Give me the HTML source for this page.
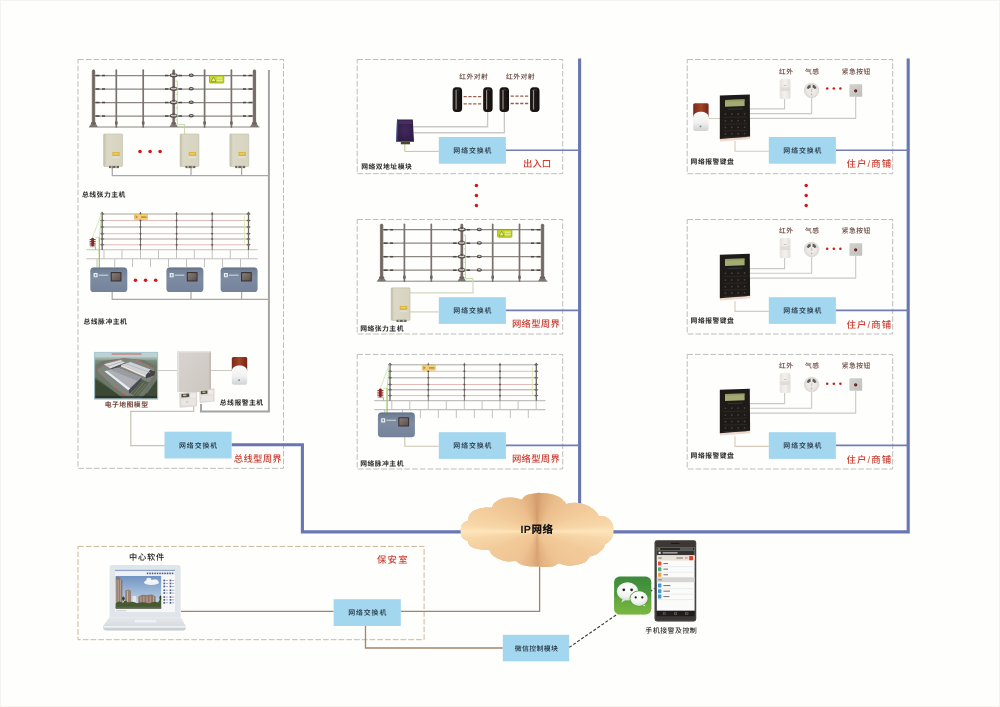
<!DOCTYPE html>
<html lang="zh-CN">
<head>
<meta charset="utf-8">
<title>周界报警系统拓扑图</title>
<style>
html,body{margin:0;padding:0;background:#fefefc;}
body{width:1000px;height:707px;overflow:hidden;position:relative;font-family:"Liberation Sans","Noto Sans CJK SC",sans-serif;}
svg{display:block;position:absolute;left:0;top:0;will-change:transform;}
text{font-family:"Liberation Sans","Noto Sans CJK SC",sans-serif;text-rendering:geometricPrecision;}
</style>
</head>
<body>
<svg width="1000" height="707" viewBox="0 0 1000 707">
<defs>
<linearGradient id="postg" x1="0" x2="1" y1="0" y2="0"><stop offset="0" stop-color="#8a817d"/><stop offset="0.45" stop-color="#6f6763"/><stop offset="1" stop-color="#7f7773"/></linearGradient>
<linearGradient id="beigeg" x1="0" x2="1" y1="0" y2="0"><stop offset="0" stop-color="#cfcbb7"/><stop offset="0.2" stop-color="#dbd8c6"/><stop offset="1" stop-color="#d6d3c0"/></linearGradient>
<linearGradient id="pulseg" x1="0" x2="0" y1="0" y2="1"><stop offset="0" stop-color="#6f7e94"/><stop offset="0.45" stop-color="#7d8ca1"/><stop offset="1" stop-color="#74839a"/></linearGradient>
<linearGradient id="scrg" x1="0" x2="1" y1="0" y2="1"><stop offset="0" stop-color="#8a7d78"/><stop offset="1" stop-color="#5c504c"/></linearGradient>
<linearGradient id="sirr" x1="0" x2="1" y1="0" y2="0"><stop offset="0" stop-color="#7c2819"/><stop offset="0.5" stop-color="#a24426"/><stop offset="1" stop-color="#772417"/></linearGradient>
<linearGradient id="sirw" x1="0" x2="0" y1="0" y2="1"><stop offset="0" stop-color="#fbfbfa"/><stop offset="0.55" stop-color="#f0f1f0"/><stop offset="1" stop-color="#cfd3d2"/></linearGradient>
<linearGradient id="pirg" x1="0" x2="1" y1="0" y2="0"><stop offset="0" stop-color="#e6e2de"/><stop offset="0.5" stop-color="#f3f1ee"/><stop offset="1" stop-color="#e3dfdb"/></linearGradient>
<radialGradient id="gasg" cx="0.5" cy="0.5" r="0.5"><stop offset="0" stop-color="#f3f1ee"/><stop offset="0.7" stop-color="#e9e6e2"/><stop offset="1" stop-color="#dcd8d3"/></radialGradient>
<linearGradient id="btng" x1="0" x2="1" y1="0" y2="1"><stop offset="0" stop-color="#d2d2ce"/><stop offset="1" stop-color="#bfc0bb"/></linearGradient>
<linearGradient id="irg" x1="0" x2="1" y1="0" y2="0"><stop offset="0" stop-color="#2b2522"/><stop offset="0.25" stop-color="#14110f"/><stop offset="0.6" stop-color="#1c1816"/><stop offset="1" stop-color="#0f0d0c"/></linearGradient>
<linearGradient id="cabg" x1="0" x2="1" y1="0" y2="1"><stop offset="0" stop-color="#d9d4d0"/><stop offset="1" stop-color="#cdc6c1"/></linearGradient>
<linearGradient id="mapg" x1="0" x2="0" y1="0" y2="1"><stop offset="0" stop-color="#95a59a"/><stop offset="0.35" stop-color="#66775f"/><stop offset="1" stop-color="#3f4c39"/></linearGradient>
<linearGradient id="skyg" x1="0" x2="0" y1="0" y2="1"><stop offset="0" stop-color="#6f93c2"/><stop offset="0.6" stop-color="#a9c3dd"/><stop offset="1" stop-color="#d5e0ea"/></linearGradient>
<linearGradient id="baseg" x1="0" x2="0" y1="0" y2="1"><stop offset="0" stop-color="#e4e7ea"/><stop offset="0.7" stop-color="#d7dbdf"/><stop offset="1" stop-color="#c3c8cd"/></linearGradient>
<linearGradient id="wxg" x1="0" x2="0" y1="0" y2="1"><stop offset="0" stop-color="#3d8a3c"/><stop offset="0.5" stop-color="#4d9a3c"/><stop offset="1" stop-color="#79b83f"/></linearGradient>
<radialGradient id="bubg" cx="0.45" cy="0.3" r="0.8"><stop offset="0" stop-color="#ffffff"/><stop offset="0.6" stop-color="#f1f3ef"/><stop offset="1" stop-color="#c9d2c6"/></radialGradient>
<linearGradient id="hazeg" x1="0" x2="0" y1="0" y2="1"><stop offset="0" stop-color="#b3c7c4"/><stop offset="1" stop-color="#8a9a8e"/></linearGradient>
<filter id="soft" x="-5%" y="-10%" width="110%" height="120%" color-interpolation-filters="sRGB"><feGaussianBlur stdDeviation="0.38"/></filter>
<radialGradient id="modg" cx="0.5" cy="0.45" r="0.7"><stop offset="0" stop-color="#41295c"/><stop offset="1" stop-color="#2b1a40"/></radialGradient>
</defs>
<rect x="0" y="0" width="1000" height="707" fill="#fefefc"/>
<rect x="0.5" y="0.5" width="999" height="706" fill="none" stroke="#f4f3f0" stroke-width="1"/>
<rect x="78" y="59.5" width="205.5" height="408.8" fill="none" stroke="#bdbdbd" stroke-width="1" stroke-dasharray="5.75 2"/>
<rect x="357.2" y="59.5" width="205.50000000000006" height="114.19999999999999" fill="none" stroke="#bdbdbd" stroke-width="1" stroke-dasharray="5.75 2"/>
<rect x="687.2" y="59.5" width="205.5" height="114.19999999999999" fill="none" stroke="#bdbdbd" stroke-width="1" stroke-dasharray="5.75 2"/>
<rect x="357.2" y="219.5" width="205.50000000000006" height="114.5" fill="none" stroke="#bdbdbd" stroke-width="1" stroke-dasharray="5.75 2"/>
<rect x="687.2" y="219.5" width="205.5" height="114.5" fill="none" stroke="#bdbdbd" stroke-width="1" stroke-dasharray="5.75 2"/>
<rect x="357.2" y="354.4" width="205.50000000000006" height="114.60000000000002" fill="none" stroke="#bdbdbd" stroke-width="1" stroke-dasharray="5.75 2"/>
<rect x="687.2" y="354.4" width="205.5" height="114.60000000000002" fill="none" stroke="#bdbdbd" stroke-width="1" stroke-dasharray="5.75 2"/>
<rect x="78" y="546.4" width="346.1" height="93.30000000000007" fill="none" stroke="#cdb79b" stroke-width="1" stroke-dasharray="5.75 2"/>
<polyline points="231.6,444.7 302.4,444.7 302.4,531.9 462,531.9" fill="none" stroke="#6876b2" stroke-width="3.1" />
<polyline points="610,531.9 908.2,531.9 908.2,58.6" fill="none" stroke="#6876b2" stroke-width="3.1" />
<polyline points="579.6,58.6 579.6,505" fill="none" stroke="#6876b2" stroke-width="3.1" />
<polyline points="505.9,150.2 579,150.2" fill="none" stroke="#727db5" stroke-width="1.6" />
<polyline points="835.9,150.2 908,150.2" fill="none" stroke="#727db5" stroke-width="1.6" />
<polyline points="505.9,310.4 579,310.4" fill="none" stroke="#727db5" stroke-width="1.6" />
<polyline points="835.9,310.4 908,310.4" fill="none" stroke="#727db5" stroke-width="1.6" />
<polyline points="505.9,445.4 579,445.4" fill="none" stroke="#727db5" stroke-width="1.6" />
<polyline points="835.9,445.4 908,445.4" fill="none" stroke="#727db5" stroke-width="1.6" />
<polyline points="201,404 201,411.4 268.9,411.4 268.9,70" fill="none" stroke="#a3a3a3" stroke-width="2" />
<polyline points="112.3,168 112.3,175.6 268.9,175.6" fill="none" stroke="#aaa8a6" stroke-width="1.25" />
<polyline points="191,168 191,175.6" fill="none" stroke="#aaa8a6" stroke-width="1.25" />
<polyline points="241.6,168 241.6,175.6" fill="none" stroke="#aaa8a6" stroke-width="1.25" />
<g transform="translate(0,0)" filter="url(#soft)">
<line x1="94" y1="75.5" x2="254" y2="75.5" stroke="#8d8783" stroke-width="1.25"/>
<line x1="95.5" y1="75.5" x2="99.5" y2="75.5" stroke="#4c4644" stroke-width="1.5"/>
<line x1="102" y1="75.5" x2="105" y2="75.5" stroke="#4c4644" stroke-width="1.5"/>
<line x1="165" y1="75.5" x2="168.5" y2="75.5" stroke="#4c4644" stroke-width="1.5"/>
<line x1="178.5" y1="75.5" x2="182" y2="75.5" stroke="#4c4644" stroke-width="1.5"/>
<line x1="243" y1="75.5" x2="246" y2="75.5" stroke="#4c4644" stroke-width="1.5"/>
<line x1="248.5" y1="75.5" x2="252.5" y2="75.5" stroke="#4c4644" stroke-width="1.5"/>
<line x1="94" y1="89" x2="254" y2="89" stroke="#8d8783" stroke-width="1.25"/>
<line x1="95.5" y1="89" x2="99.5" y2="89" stroke="#4c4644" stroke-width="1.5"/>
<line x1="102" y1="89" x2="105" y2="89" stroke="#4c4644" stroke-width="1.5"/>
<line x1="165" y1="89" x2="168.5" y2="89" stroke="#4c4644" stroke-width="1.5"/>
<line x1="178.5" y1="89" x2="182" y2="89" stroke="#4c4644" stroke-width="1.5"/>
<line x1="243" y1="89" x2="246" y2="89" stroke="#4c4644" stroke-width="1.5"/>
<line x1="248.5" y1="89" x2="252.5" y2="89" stroke="#4c4644" stroke-width="1.5"/>
<line x1="94" y1="102.5" x2="254" y2="102.5" stroke="#8d8783" stroke-width="1.25"/>
<line x1="95.5" y1="102.5" x2="99.5" y2="102.5" stroke="#4c4644" stroke-width="1.5"/>
<line x1="102" y1="102.5" x2="105" y2="102.5" stroke="#4c4644" stroke-width="1.5"/>
<line x1="165" y1="102.5" x2="168.5" y2="102.5" stroke="#4c4644" stroke-width="1.5"/>
<line x1="178.5" y1="102.5" x2="182" y2="102.5" stroke="#4c4644" stroke-width="1.5"/>
<line x1="243" y1="102.5" x2="246" y2="102.5" stroke="#4c4644" stroke-width="1.5"/>
<line x1="248.5" y1="102.5" x2="252.5" y2="102.5" stroke="#4c4644" stroke-width="1.5"/>
<line x1="94" y1="116" x2="254" y2="116" stroke="#8d8783" stroke-width="1.25"/>
<line x1="95.5" y1="116" x2="99.5" y2="116" stroke="#4c4644" stroke-width="1.5"/>
<line x1="102" y1="116" x2="105" y2="116" stroke="#4c4644" stroke-width="1.5"/>
<line x1="165" y1="116" x2="168.5" y2="116" stroke="#4c4644" stroke-width="1.5"/>
<line x1="178.5" y1="116" x2="182" y2="116" stroke="#4c4644" stroke-width="1.5"/>
<line x1="243" y1="116" x2="246" y2="116" stroke="#4c4644" stroke-width="1.5"/>
<line x1="248.5" y1="116" x2="252.5" y2="116" stroke="#4c4644" stroke-width="1.5"/>
<line x1="89" y1="127" x2="259.5" y2="127" stroke="#8a8480" stroke-width="1"/>
<line x1="116.3" y1="70.2" x2="116.3" y2="127" stroke="#7b726e" stroke-width="1.7" stroke-linecap="round"/>
<rect x="115.0" y="121.5" width="2.6" height="3" fill="#6d6561"/>
<line x1="143.2" y1="70.2" x2="143.2" y2="127" stroke="#7b726e" stroke-width="1.7" stroke-linecap="round"/>
<rect x="141.89999999999998" y="121.5" width="2.6" height="3" fill="#6d6561"/>
<line x1="204.6" y1="70.2" x2="204.6" y2="127" stroke="#7b726e" stroke-width="1.7" stroke-linecap="round"/>
<rect x="203.29999999999998" y="121.5" width="2.6" height="3" fill="#6d6561"/>
<line x1="231.4" y1="70.2" x2="231.4" y2="127" stroke="#7b726e" stroke-width="1.7" stroke-linecap="round"/>
<rect x="230.1" y="121.5" width="2.6" height="3" fill="#6d6561"/>
<rect x="91.8" y="69.5" width="3.4" height="57" rx="1.5" fill="url(#postg)"/>
<rect x="90.9" y="122.2" width="5.2" height="2.6" rx="0.8" fill="#6b635f"/>
<path d="M89.1,127 L90.5,124.6 L96.5,124.6 L97.9,127 Z" fill="#7d7571"/>
<rect x="252.70000000000002" y="69.5" width="3.4" height="57" rx="1.5" fill="url(#postg)"/>
<rect x="251.8" y="122.2" width="5.2" height="2.6" rx="0.8" fill="#6b635f"/>
<path d="M250.0,127 L251.4,124.6 L257.4,124.6 L258.8,127 Z" fill="#7d7571"/>
<rect x="172.29999999999998" y="69.6" width="2.8" height="57" rx="1.3" fill="url(#postg)"/>
<rect x="171.29999999999998" y="122.2" width="4.8" height="2.6" rx="0.8" fill="#6b635f"/>
<path d="M169.5,127 L170.89999999999998,124.6 L176.5,124.6 L177.89999999999998,127 Z" fill="#7d7571"/>
<ellipse cx="173.7" cy="75.3" rx="4" ry="2.1" fill="#524c4a"/>
<ellipse cx="173.7" cy="75.05" rx="2.9" ry="1.05" fill="#d6d2ce"/>
<rect x="172.39999999999998" y="72.7" width="2.6" height="2" fill="#5a5350"/>
<ellipse cx="173.7" cy="88.8" rx="4" ry="2.1" fill="#524c4a"/>
<ellipse cx="173.7" cy="88.55" rx="2.9" ry="1.05" fill="#d6d2ce"/>
<rect x="172.39999999999998" y="86.2" width="2.6" height="2" fill="#5a5350"/>
<ellipse cx="173.7" cy="102.3" rx="4" ry="2.1" fill="#524c4a"/>
<ellipse cx="173.7" cy="102.05" rx="2.9" ry="1.05" fill="#d6d2ce"/>
<rect x="172.39999999999998" y="99.7" width="2.6" height="2" fill="#5a5350"/>
<ellipse cx="173.7" cy="115.8" rx="4" ry="2.1" fill="#524c4a"/>
<ellipse cx="173.7" cy="115.55" rx="2.9" ry="1.05" fill="#d6d2ce"/>
<rect x="172.39999999999998" y="113.2" width="2.6" height="2" fill="#5a5350"/>
<ellipse cx="191.2" cy="75.3" rx="2.6" ry="1.7" fill="#4a4543"/>
<ellipse cx="191.2" cy="75.1" rx="1.5" ry="0.7" fill="#c9c5c1"/>
<ellipse cx="191.2" cy="88.8" rx="2.6" ry="1.7" fill="#4a4543"/>
<ellipse cx="191.2" cy="88.6" rx="1.5" ry="0.7" fill="#c9c5c1"/>
<ellipse cx="191.2" cy="102.3" rx="2.6" ry="1.7" fill="#4a4543"/>
<ellipse cx="191.2" cy="102.1" rx="1.5" ry="0.7" fill="#c9c5c1"/>
<ellipse cx="191.2" cy="115.8" rx="2.6" ry="1.7" fill="#4a4543"/>
<ellipse cx="191.2" cy="115.6" rx="1.5" ry="0.7" fill="#c9c5c1"/>
<rect x="209.5" y="75.6" width="14.3" height="7.4" rx="0.8" fill="#c9d92a" stroke="#8d9a1c" stroke-width="0.7"/>
<path d="M211,81.6 L213.5,77 L216,81.6 Z" fill="#e9ef9a" stroke="#6c7a22" stroke-width="0.6"/>
<rect x="216.8" y="77.4" width="5.6" height="1.3" fill="#e3ea8c"/><rect x="216.8" y="79.8" width="5.6" height="1.3" fill="#e3ea8c"/>
<polyline points="175.6,81 177.3,81 177.3,124.4 184.6,124.4 184.6,134" fill="none" stroke="#afd596" stroke-width="0.8"/>
<line x1="175.8" y1="94.5" x2="177.3" y2="94.5" stroke="#a8d08c" stroke-width="0.7"/>
<line x1="175.8" y1="108" x2="177.3" y2="108" stroke="#a8d08c" stroke-width="0.7"/>
<line x1="175.8" y1="120" x2="177.3" y2="120" stroke="#a8d08c" stroke-width="0.7"/>
</g>
<g transform="translate(103.6,133.9)">
<rect x="0" y="0" width="19" height="32.6" rx="0.8" fill="url(#beigeg)"/>
<rect x="0" y="0" width="19" height="32.6" rx="0.8" fill="none" stroke="#bdb8a4" stroke-width="0.5"/>
<rect x="0.2" y="0.4" width="1.6" height="31.8" fill="#c7c3af" opacity="0.8"/>
<rect x="8.7" y="18.2" width="7.4" height="4" rx="0.4" fill="#dcb63c"/>
<rect x="9.8" y="19.4" width="5" height="1.1" fill="#efd87c"/>
<rect x="8.9" y="22.6" width="7" height="1.6" fill="#e3e0d3"/>
<rect x="5.4" y="32" width="10" height="2.2" fill="#6a655b"/>
<rect x="7.2" y="32.2" width="1.6" height="1.8" fill="#bdb9ad"/><rect x="11.6" y="32.2" width="1.6" height="1.8" fill="#bdb9ad"/>
</g>
<g transform="translate(180,133.9)">
<rect x="0" y="0" width="19" height="32.6" rx="0.8" fill="url(#beigeg)"/>
<rect x="0" y="0" width="19" height="32.6" rx="0.8" fill="none" stroke="#bdb8a4" stroke-width="0.5"/>
<rect x="0.2" y="0.4" width="1.6" height="31.8" fill="#c7c3af" opacity="0.8"/>
<rect x="8.7" y="18.2" width="7.4" height="4" rx="0.4" fill="#dcb63c"/>
<rect x="9.8" y="19.4" width="5" height="1.1" fill="#efd87c"/>
<rect x="8.9" y="22.6" width="7" height="1.6" fill="#e3e0d3"/>
<rect x="5.4" y="32" width="10" height="2.2" fill="#6a655b"/>
<rect x="7.2" y="32.2" width="1.6" height="1.8" fill="#bdb9ad"/><rect x="11.6" y="32.2" width="1.6" height="1.8" fill="#bdb9ad"/>
</g>
<g transform="translate(229.8,133.9)">
<rect x="0" y="0" width="19" height="32.6" rx="0.8" fill="url(#beigeg)"/>
<rect x="0" y="0" width="19" height="32.6" rx="0.8" fill="none" stroke="#bdb8a4" stroke-width="0.5"/>
<rect x="0.2" y="0.4" width="1.6" height="31.8" fill="#c7c3af" opacity="0.8"/>
<rect x="8.7" y="18.2" width="7.4" height="4" rx="0.4" fill="#dcb63c"/>
<rect x="9.8" y="19.4" width="5" height="1.1" fill="#efd87c"/>
<rect x="8.9" y="22.6" width="7" height="1.6" fill="#e3e0d3"/>
<rect x="5.4" y="32" width="10" height="2.2" fill="#6a655b"/>
<rect x="7.2" y="32.2" width="1.6" height="1.8" fill="#bdb9ad"/><rect x="11.6" y="32.2" width="1.6" height="1.8" fill="#bdb9ad"/>
</g>
<circle cx="140" cy="151.5" r="1.8" fill="#d3161c"/>
<circle cx="150.1" cy="151.5" r="1.8" fill="#d3161c"/>
<circle cx="160.1" cy="151.5" r="1.8" fill="#d3161c"/>
<polyline points="112.2,292 112.2,299.4 268.9,299.4" fill="none" stroke="#aaa8a6" stroke-width="1.25" />
<polyline points="191,292 191,299.4" fill="none" stroke="#aaa8a6" stroke-width="1.25" />
<polyline points="241.6,292 241.6,299.4" fill="none" stroke="#aaa8a6" stroke-width="1.25" />
<g transform="translate(0,0)" filter="url(#soft)">
<line x1="86.5" y1="249.8" x2="257.6" y2="249.8" stroke="#c3c1bf" stroke-width="1.1"/>
<line x1="86.5" y1="258.8" x2="257.6" y2="258.8" stroke="#c3c1bf" stroke-width="1.1"/>
<line x1="104" y1="249.8" x2="104" y2="258.8" stroke="#c3c1bf" stroke-width="1"/>
<line x1="122" y1="249.8" x2="122" y2="258.8" stroke="#c3c1bf" stroke-width="1"/>
<line x1="140.5" y1="249.8" x2="140.5" y2="258.8" stroke="#c3c1bf" stroke-width="1"/>
<line x1="158.5" y1="249.8" x2="158.5" y2="258.8" stroke="#c3c1bf" stroke-width="1"/>
<line x1="176.5" y1="249.8" x2="176.5" y2="258.8" stroke="#c3c1bf" stroke-width="1"/>
<line x1="194.3" y1="249.8" x2="194.3" y2="258.8" stroke="#c3c1bf" stroke-width="1"/>
<line x1="212.2" y1="249.8" x2="212.2" y2="258.8" stroke="#c3c1bf" stroke-width="1"/>
<line x1="230.3" y1="249.8" x2="230.3" y2="258.8" stroke="#c3c1bf" stroke-width="1"/>
<line x1="248.4" y1="249.8" x2="248.4" y2="258.8" stroke="#c3c1bf" stroke-width="1"/>
<line x1="97" y1="258.8" x2="97" y2="267.2" stroke="#c3c1bf" stroke-width="1"/>
<line x1="114.7" y1="258.8" x2="114.7" y2="267.2" stroke="#c3c1bf" stroke-width="1"/>
<line x1="132.6" y1="258.8" x2="132.6" y2="267.2" stroke="#c3c1bf" stroke-width="1"/>
<line x1="150.5" y1="258.8" x2="150.5" y2="267.2" stroke="#c3c1bf" stroke-width="1"/>
<line x1="168.5" y1="258.8" x2="168.5" y2="267.2" stroke="#c3c1bf" stroke-width="1"/>
<line x1="186.5" y1="258.8" x2="186.5" y2="267.2" stroke="#c3c1bf" stroke-width="1"/>
<line x1="204.5" y1="258.8" x2="204.5" y2="267.2" stroke="#c3c1bf" stroke-width="1"/>
<line x1="222.5" y1="258.8" x2="222.5" y2="267.2" stroke="#c3c1bf" stroke-width="1"/>
<line x1="240.5" y1="258.8" x2="240.5" y2="267.2" stroke="#c3c1bf" stroke-width="1"/>
<line x1="102" y1="214" x2="248.5" y2="214" stroke="#aaa5a1" stroke-width="1"/>
<line x1="102" y1="220.5" x2="248.5" y2="220.5" stroke="#dcaaa6" stroke-width="0.8"/>
<line x1="102" y1="227" x2="248.5" y2="227" stroke="#aaa5a1" stroke-width="1"/>
<line x1="102" y1="233.7" x2="248.5" y2="233.7" stroke="#dcaaa6" stroke-width="0.8"/>
<line x1="102" y1="239" x2="248.5" y2="239" stroke="#aaa5a1" stroke-width="1"/>
<line x1="102" y1="244.8" x2="248.5" y2="244.8" stroke="#dcaaa6" stroke-width="0.8"/>
<line x1="140.5" y1="212" x2="140.5" y2="250" stroke="#6f6966" stroke-width="0.95"/>
<rect x="139.6" y="213.3" width="1.8" height="1.4" fill="#5a5452"/>
<rect x="139.6" y="219.8" width="1.8" height="1.4" fill="#5a5452"/>
<rect x="139.6" y="226.3" width="1.8" height="1.4" fill="#5a5452"/>
<rect x="139.6" y="233.0" width="1.8" height="1.4" fill="#5a5452"/>
<rect x="139.6" y="238.3" width="1.8" height="1.4" fill="#5a5452"/>
<rect x="139.6" y="244.10000000000002" width="1.8" height="1.4" fill="#5a5452"/>
<line x1="176.6" y1="212" x2="176.6" y2="250" stroke="#6f6966" stroke-width="0.95"/>
<rect x="175.7" y="213.3" width="1.8" height="1.4" fill="#5a5452"/>
<rect x="175.7" y="219.8" width="1.8" height="1.4" fill="#5a5452"/>
<rect x="175.7" y="226.3" width="1.8" height="1.4" fill="#5a5452"/>
<rect x="175.7" y="233.0" width="1.8" height="1.4" fill="#5a5452"/>
<rect x="175.7" y="238.3" width="1.8" height="1.4" fill="#5a5452"/>
<rect x="175.7" y="244.10000000000002" width="1.8" height="1.4" fill="#5a5452"/>
<line x1="212.2" y1="212" x2="212.2" y2="250" stroke="#6f6966" stroke-width="0.95"/>
<rect x="211.29999999999998" y="213.3" width="1.8" height="1.4" fill="#5a5452"/>
<rect x="211.29999999999998" y="219.8" width="1.8" height="1.4" fill="#5a5452"/>
<rect x="211.29999999999998" y="226.3" width="1.8" height="1.4" fill="#5a5452"/>
<rect x="211.29999999999998" y="233.0" width="1.8" height="1.4" fill="#5a5452"/>
<rect x="211.29999999999998" y="238.3" width="1.8" height="1.4" fill="#5a5452"/>
<rect x="211.29999999999998" y="244.10000000000002" width="1.8" height="1.4" fill="#5a5452"/>
<line x1="102.2" y1="212.4" x2="102.2" y2="250" stroke="#6a6461" stroke-width="1.3"/>
<path d="M100.9,213.6 L102.2,211.6 L103.5,213.6 Z" fill="#6a6461"/>
<path d="M99.9,214 L102.2,212.8 L104.5,214 L102.2,215.2 Z" fill="#6f6966"/>
<path d="M99.9,220.5 L102.2,219.3 L104.5,220.5 L102.2,221.7 Z" fill="#6f6966"/>
<path d="M99.9,227 L102.2,225.8 L104.5,227 L102.2,228.2 Z" fill="#6f6966"/>
<path d="M99.9,233.7 L102.2,232.5 L104.5,233.7 L102.2,234.89999999999998 Z" fill="#6f6966"/>
<path d="M99.9,239 L102.2,237.8 L104.5,239 L102.2,240.2 Z" fill="#6f6966"/>
<path d="M99.9,244.8 L102.2,243.60000000000002 L104.5,244.8 L102.2,246.0 Z" fill="#6f6966"/>
<line x1="248.5" y1="212.4" x2="248.5" y2="250" stroke="#6a6461" stroke-width="1.3"/>
<path d="M247.2,213.6 L248.5,211.6 L249.8,213.6 Z" fill="#6a6461"/>
<path d="M246.2,214 L248.5,212.8 L250.8,214 L248.5,215.2 Z" fill="#6f6966"/>
<path d="M246.2,220.5 L248.5,219.3 L250.8,220.5 L248.5,221.7 Z" fill="#6f6966"/>
<path d="M246.2,227 L248.5,225.8 L250.8,227 L248.5,228.2 Z" fill="#6f6966"/>
<path d="M246.2,233.7 L248.5,232.5 L250.8,233.7 L248.5,234.89999999999998 Z" fill="#6f6966"/>
<path d="M246.2,239 L248.5,237.8 L250.8,239 L248.5,240.2 Z" fill="#6f6966"/>
<path d="M246.2,244.8 L248.5,243.60000000000002 L250.8,244.8 L248.5,246.0 Z" fill="#6f6966"/>
<rect x="134.5" y="214.4" width="13" height="5" rx="0.5" fill="#f3d27a" stroke="#d9a93a" stroke-width="0.5"/>
<path d="M135.6,215.2 L138.2,216.9 L135.6,218.6 Z" fill="#d8831e"/>
<rect x="141" y="216.4" width="5.6" height="1.4" fill="#b58a3c"/>
<rect x="91.3" y="237.8" width="2.6" height="8.6" rx="1.1" fill="#7c1f1c"/>
<line x1="89.6" y1="239.6" x2="95.6" y2="239.6" stroke="#8a2a25" stroke-width="1"/>
<line x1="89.6" y1="241.4" x2="95.6" y2="241.4" stroke="#8a2a25" stroke-width="1"/>
<line x1="89.6" y1="243.2" x2="95.6" y2="243.2" stroke="#8a2a25" stroke-width="1"/>
<line x1="89.6" y1="245" x2="95.6" y2="245" stroke="#8a2a25" stroke-width="1"/>
<polyline points="90,246.8 95.6,246.8 95.6,249.6" fill="none" stroke="#8e8a88" stroke-width="0.7"/>
<line x1="92.5" y1="237.6" x2="101.4" y2="213.6" stroke="#b6d8a0" stroke-width="0.6"/>
<line x1="95.4" y1="237.6" x2="99.3" y2="237.6" stroke="#b6d8a0" stroke-width="0.6"/>
<line x1="101.6" y1="213.6" x2="99.3" y2="238" stroke="#a9d48a" stroke-width="0.7"/>
<line x1="99.3" y1="237.4" x2="99.3" y2="268" stroke="#8cc63f" stroke-width="1.15"/>
<line x1="244.6" y1="216" x2="244.6" y2="244.6" stroke="#d5e5a5" stroke-width="0.8"/>
</g>
<g transform="translate(90.3,267.5)">
<rect x="0" y="0" width="37" height="24.6" rx="3.4" fill="url(#pulseg)"/>
<rect x="2" y="0.2" width="33" height="1.5" rx="0.7" fill="#64748a" opacity="0.85"/>
<rect x="20.4" y="4.6" width="10.8" height="9.4" rx="0.6" fill="#3b3433"/>
<rect x="21.5" y="5.7" width="8.6" height="7.2" fill="url(#scrg)"/>
<rect x="3.3" y="5.6" width="4" height="4.2" rx="0.5" fill="#eef1f5"/>
<rect x="4.5" y="6.6" width="1.6" height="2.2" fill="#8896ab"/>
<rect x="8.4" y="7" width="9.6" height="1.5" fill="#c3cbd7" opacity="0.85"/>
</g>
<g transform="translate(166.4,267.5)">
<rect x="0" y="0" width="37" height="24.6" rx="3.4" fill="url(#pulseg)"/>
<rect x="2" y="0.2" width="33" height="1.5" rx="0.7" fill="#64748a" opacity="0.85"/>
<rect x="20.4" y="4.6" width="10.8" height="9.4" rx="0.6" fill="#3b3433"/>
<rect x="21.5" y="5.7" width="8.6" height="7.2" fill="url(#scrg)"/>
<rect x="3.3" y="5.6" width="4" height="4.2" rx="0.5" fill="#eef1f5"/>
<rect x="4.5" y="6.6" width="1.6" height="2.2" fill="#8896ab"/>
<rect x="8.4" y="7" width="9.6" height="1.5" fill="#c3cbd7" opacity="0.85"/>
</g>
<g transform="translate(220.6,267.5)">
<rect x="0" y="0" width="37" height="24.6" rx="3.4" fill="url(#pulseg)"/>
<rect x="2" y="0.2" width="33" height="1.5" rx="0.7" fill="#64748a" opacity="0.85"/>
<rect x="20.4" y="4.6" width="10.8" height="9.4" rx="0.6" fill="#3b3433"/>
<rect x="21.5" y="5.7" width="8.6" height="7.2" fill="url(#scrg)"/>
<rect x="3.3" y="5.6" width="4" height="4.2" rx="0.5" fill="#eef1f5"/>
<rect x="4.5" y="6.6" width="1.6" height="2.2" fill="#8896ab"/>
<rect x="8.4" y="7" width="9.6" height="1.5" fill="#c3cbd7" opacity="0.85"/>
</g>
<circle cx="135.5" cy="280.2" r="1.8" fill="#d3161c"/>
<circle cx="145.6" cy="280.2" r="1.8" fill="#d3161c"/>
<circle cx="155.7" cy="280.2" r="1.8" fill="#d3161c"/>
<polyline points="158,370.5 177.2,370.5" fill="none" stroke="#cbc9c7" stroke-width="1" />
<polyline points="210.8,370.5 231.8,370.5" fill="none" stroke="#cbc9c7" stroke-width="1" />
<polyline points="193.7,405 193.7,411.4 130.8,411.4 130.8,445.6 164.5,445.6" fill="none" stroke="#cbc1b0" stroke-width="1.2" />
<g transform="translate(94.1,351.9)">
<clipPath id="mapclip"><rect x="0" y="0" width="64" height="47.4"/></clipPath>
<g clip-path="url(#mapclip)">
<rect x="0" y="0" width="64" height="47.4" fill="url(#mapg)"/>
<rect x="0" y="0" width="64" height="5.8" fill="#bcd2d3"/>
<rect x="0" y="5" width="64" height="3.4" fill="url(#hazeg)"/>
<path d="M0,14 L8,9 L30,6.4 L50,8 L64,15 V30 L46,47.4 H30 L0,24 Z" fill="#6b786a"/>
<path d="M4,17.6 L12.6,11 L27.6,7 L43.4,8 L59.2,16.6 L61,21.8 L43.6,42.8 L33.6,44.6 L19.6,34.6 L4,19.8 Z" fill="#7f857f"/>
<path d="M4,17.6 L12.6,11 L27.6,7 L43.4,8 L59.2,16.6 L61,21.8 L43.6,42.8 L33.6,44.6 L19.6,34.6 L4,19.8 Z" fill="none" stroke="#d7665c" stroke-width="0.9" stroke-dasharray="2.2 1.1" opacity="0.9"/>
<path d="M0,26 L20,40 L30,47.4 H0 Z" fill="#3b4934"/>
<path d="M64,26 L50,44 L47,47.4 H64 Z" fill="#3d4a38"/>
<path d="M50,40 L60,27 L62.4,28.4 L53,41.6 Z" fill="#6d726c"/>
<g transform="translate(30.5,24.6) scale(1.1) translate(-30,-24)">
<path d="M11.2,12.9 L26.5,8.9 L30.5,11.4 L17.1,16.8 Z" fill="#dadde1"/>
<path d="M17.1,16.8 L30.5,11.4 L30.7,13 L17.5,18.6 Z" fill="#4f5357"/>
<path d="M14.2,14.8 L28.6,10.2" stroke="#9a9ea4" stroke-width="0.6" fill="none"/>
<path d="M27,13.4 L35.4,10.9 L57.2,19 L49.3,22.8 Z" fill="#cfd2d6"/>
<path d="M27,13.4 L49.3,22.8 L49.1,24.6 L26.8,15 Z" fill="#efe7df"/>
<path d="M53.3,17.8 L57.7,19.3 L57.2,22.8 L49.3,25.9 L49.3,22.8 Z" fill="#3f4347"/>
<path d="M31,12.2 L53.4,20.6" stroke="#a9adb3" stroke-width="0.6" fill="none"/>
<path d="M11.7,19.3 L23.6,16 L45.3,24.6 L33.5,35.6 Z" fill="#aeb0b6"/>
<path d="M17,17.9 L23.6,16 L45.3,24.6 L41.6,28 Z" fill="#9a9ca2"/>
<path d="M11.7,19.3 L13.9,18.7 L35,35 L33.5,36.8 Z" fill="#e6edf3"/>
<path d="M33.5,36.8 L45.3,24.8 L45.8,28.6 L34.5,39.8 Z" fill="#474b50"/>
<path d="M46.3,26.7 L52.3,29.7 L41.4,42.6 L35.6,39.6 Z" fill="#59604f"/>
<path d="M47.4,29.6 L38.4,40.2 M49.6,30.6 L40.4,41.4" stroke="#8a9a76" stroke-width="0.5" fill="none"/>
</g>
<rect x="0" y="44" width="64" height="3.4" fill="#262c22" opacity="0.7"/>
<rect x="17.6" y="1.5" width="29.8" height="1.2" fill="#cc5a55" opacity="0.8"/>
</g>
<rect x="0.5" y="0.5" width="63" height="46.4" fill="none" stroke="#a9c6d0" stroke-width="1"/>
</g>
<rect x="177.2" y="351.5" width="33.6" height="40.6" fill="url(#cabg)"/>
<rect x="177.2" y="351.5" width="1.8" height="40.6" fill="#e4e0dc"/>
<rect x="209.4" y="351.5" width="1.4" height="40.6" fill="#bdb5b0"/>
<rect x="177.2" y="351.5" width="33.6" height="1" fill="#e6e2de"/>
<g transform="translate(-0.4,1.3)">
<path d="M180,392 L197,390.4 L197,404.6 L180.4,406 Z" fill="#e3dfdb" stroke="#c9c3be" stroke-width="0.5"/>
<path d="M181.8,392.8 L189.6,392.1 L189.6,395.6 L181.8,396.3 Z" fill="#4e4b45"/>
<rect x="183.4" y="393.2" width="3.4" height="1.6" fill="#c9c37e"/>
<rect x="190.6" y="392" width="5.6" height="4.4" fill="#eeebe8"/>
<rect x="182" y="398" width="13.6" height="6" fill="#ebe8e5" opacity="0.8"/>
<rect x="186.4" y="400" width="2.4" height="1.2" fill="#c9c4bf"/>
<path d="M200,388.8 L214.5,387.4 L214.5,399.8 L200.4,401.2 Z" fill="#e3dfdb" stroke="#c9c3be" stroke-width="0.5"/>
<path d="M201.2,389.8 L207.8,389.2 L207.8,392.4 L201.2,393 Z" fill="#4e4b45"/>
<rect x="202.8" y="390.2" width="3" height="1.4" fill="#c9c37e"/>
<rect x="208.8" y="389" width="4.8" height="4" fill="#eeebe8"/>
<rect x="202" y="394.6" width="11.4" height="5" fill="#ebe8e5" opacity="0.8"/>
</g>
<g transform="translate(231.8,357)">
<path d="M1.6,0 H13.9 Q15.4,0 15.4,1.6 V14 H0 V1.6 Q0,0 1.6,0 Z" fill="url(#sirr)"/>
<path d="M0,13.6 C0.5,10.2 3.8,8.5 7.7,8.5 C11.6,8.5 14.9,10.2 15.4,13.6 V25.6 Q15.4,27.8 13.2,27.8 H2.2 Q0,27.8 0,25.6 Z" fill="url(#sirw)"/>
<circle cx="7.3" cy="23.2" r="0.9" fill="#7c8a86"/>
</g>
<polyline points="487.6,112 487.6,126.7 413,126.7" fill="none" stroke="#cbc9c7" stroke-width="1.35" />
<polyline points="504.4,112 504.4,132.7 413.6,132.7" fill="none" stroke="#cbc9c7" stroke-width="1.35" />
<polyline points="404.8,144 404.8,151.4 438.8,151.4" fill="none" stroke="#cdbf9f" stroke-width="1" />
<g transform="translate(452.6,87.3)">
<rect x="0" y="0" width="9.5" height="24.8" rx="3.4" ry="3.8" fill="url(#irg)"/>
<rect x="2.9" y="2.6" width="1.2" height="19.6" rx="0.6" fill="#b9b0a8" opacity="0.8"/>
<path d="M1.6,3.4 Q4.7,0.8 7.9,3.4 Q4.7,2.2 1.6,3.4 Z" fill="#6f6762" opacity="0.8"/>
</g>
<g transform="translate(483.1,87.3)">
<rect x="0" y="0" width="9.5" height="24.8" rx="3.4" ry="3.8" fill="url(#irg)"/>
<rect x="2.9" y="2.6" width="1.2" height="19.6" rx="0.6" fill="#b9b0a8" opacity="0.8"/>
<path d="M1.6,3.4 Q4.7,0.8 7.9,3.4 Q4.7,2.2 1.6,3.4 Z" fill="#6f6762" opacity="0.8"/>
</g>
<g transform="translate(499.5,87.3)">
<rect x="0" y="0" width="9.5" height="24.8" rx="3.4" ry="3.8" fill="url(#irg)"/>
<rect x="2.9" y="2.6" width="1.2" height="19.6" rx="0.6" fill="#b9b0a8" opacity="0.8"/>
<path d="M1.6,3.4 Q4.7,0.8 7.9,3.4 Q4.7,2.2 1.6,3.4 Z" fill="#6f6762" opacity="0.8"/>
</g>
<g transform="translate(530,87.3)">
<rect x="0" y="0" width="9.5" height="24.8" rx="3.4" ry="3.8" fill="url(#irg)"/>
<rect x="2.9" y="2.6" width="1.2" height="19.6" rx="0.6" fill="#b9b0a8" opacity="0.8"/>
<path d="M1.6,3.4 Q4.7,0.8 7.9,3.4 Q4.7,2.2 1.6,3.4 Z" fill="#6f6762" opacity="0.8"/>
</g>
<line x1="463.6" y1="96.7" x2="481.4" y2="96.7" stroke="#9c5c4c" stroke-width="1.3" stroke-dasharray="3.2 1.6"/>
<line x1="463.6" y1="103.8" x2="481.4" y2="103.8" stroke="#9c5c4c" stroke-width="1.3" stroke-dasharray="3.2 1.6"/>
<line x1="510.6" y1="96.2" x2="528.2" y2="96.2" stroke="#9c5c4c" stroke-width="1.3" stroke-dasharray="3.2 1.6"/>
<line x1="510.6" y1="103.5" x2="528.2" y2="103.5" stroke="#9c5c4c" stroke-width="1.3" stroke-dasharray="3.2 1.6"/>
<path d="M397,119.5 H412.8 L414,141.8 H396.2 Z" fill="url(#modg)"/>
<path d="M397,119.5 L398.2,119.5 L397.6,141.8 L396.2,141.8 Z" fill="#3850a8" opacity="0.8"/>
<path d="M398.6,120.6 H411.6 L412,124 H398.4 Z" fill="#4a2f66" opacity="0.9"/>
<rect x="400.8" y="141.8" width="9.2" height="2.5" fill="#4b4a2a"/>
<g transform="translate(288.1,154.2)" filter="url(#soft)">
<line x1="94" y1="75.5" x2="254" y2="75.5" stroke="#8d8783" stroke-width="1.25"/>
<line x1="95.5" y1="75.5" x2="99.5" y2="75.5" stroke="#4c4644" stroke-width="1.5"/>
<line x1="102" y1="75.5" x2="105" y2="75.5" stroke="#4c4644" stroke-width="1.5"/>
<line x1="165" y1="75.5" x2="168.5" y2="75.5" stroke="#4c4644" stroke-width="1.5"/>
<line x1="178.5" y1="75.5" x2="182" y2="75.5" stroke="#4c4644" stroke-width="1.5"/>
<line x1="243" y1="75.5" x2="246" y2="75.5" stroke="#4c4644" stroke-width="1.5"/>
<line x1="248.5" y1="75.5" x2="252.5" y2="75.5" stroke="#4c4644" stroke-width="1.5"/>
<line x1="94" y1="89" x2="254" y2="89" stroke="#8d8783" stroke-width="1.25"/>
<line x1="95.5" y1="89" x2="99.5" y2="89" stroke="#4c4644" stroke-width="1.5"/>
<line x1="102" y1="89" x2="105" y2="89" stroke="#4c4644" stroke-width="1.5"/>
<line x1="165" y1="89" x2="168.5" y2="89" stroke="#4c4644" stroke-width="1.5"/>
<line x1="178.5" y1="89" x2="182" y2="89" stroke="#4c4644" stroke-width="1.5"/>
<line x1="243" y1="89" x2="246" y2="89" stroke="#4c4644" stroke-width="1.5"/>
<line x1="248.5" y1="89" x2="252.5" y2="89" stroke="#4c4644" stroke-width="1.5"/>
<line x1="94" y1="102.5" x2="254" y2="102.5" stroke="#8d8783" stroke-width="1.25"/>
<line x1="95.5" y1="102.5" x2="99.5" y2="102.5" stroke="#4c4644" stroke-width="1.5"/>
<line x1="102" y1="102.5" x2="105" y2="102.5" stroke="#4c4644" stroke-width="1.5"/>
<line x1="165" y1="102.5" x2="168.5" y2="102.5" stroke="#4c4644" stroke-width="1.5"/>
<line x1="178.5" y1="102.5" x2="182" y2="102.5" stroke="#4c4644" stroke-width="1.5"/>
<line x1="243" y1="102.5" x2="246" y2="102.5" stroke="#4c4644" stroke-width="1.5"/>
<line x1="248.5" y1="102.5" x2="252.5" y2="102.5" stroke="#4c4644" stroke-width="1.5"/>
<line x1="94" y1="116" x2="254" y2="116" stroke="#8d8783" stroke-width="1.25"/>
<line x1="95.5" y1="116" x2="99.5" y2="116" stroke="#4c4644" stroke-width="1.5"/>
<line x1="102" y1="116" x2="105" y2="116" stroke="#4c4644" stroke-width="1.5"/>
<line x1="165" y1="116" x2="168.5" y2="116" stroke="#4c4644" stroke-width="1.5"/>
<line x1="178.5" y1="116" x2="182" y2="116" stroke="#4c4644" stroke-width="1.5"/>
<line x1="243" y1="116" x2="246" y2="116" stroke="#4c4644" stroke-width="1.5"/>
<line x1="248.5" y1="116" x2="252.5" y2="116" stroke="#4c4644" stroke-width="1.5"/>
<line x1="89" y1="127" x2="259.5" y2="127" stroke="#8a8480" stroke-width="1"/>
<line x1="116.3" y1="70.2" x2="116.3" y2="127" stroke="#7b726e" stroke-width="1.7" stroke-linecap="round"/>
<rect x="115.0" y="121.5" width="2.6" height="3" fill="#6d6561"/>
<line x1="143.2" y1="70.2" x2="143.2" y2="127" stroke="#7b726e" stroke-width="1.7" stroke-linecap="round"/>
<rect x="141.89999999999998" y="121.5" width="2.6" height="3" fill="#6d6561"/>
<line x1="204.6" y1="70.2" x2="204.6" y2="127" stroke="#7b726e" stroke-width="1.7" stroke-linecap="round"/>
<rect x="203.29999999999998" y="121.5" width="2.6" height="3" fill="#6d6561"/>
<line x1="231.4" y1="70.2" x2="231.4" y2="127" stroke="#7b726e" stroke-width="1.7" stroke-linecap="round"/>
<rect x="230.1" y="121.5" width="2.6" height="3" fill="#6d6561"/>
<rect x="91.8" y="69.5" width="3.4" height="57" rx="1.5" fill="url(#postg)"/>
<rect x="90.9" y="122.2" width="5.2" height="2.6" rx="0.8" fill="#6b635f"/>
<path d="M89.1,127 L90.5,124.6 L96.5,124.6 L97.9,127 Z" fill="#7d7571"/>
<rect x="252.70000000000002" y="69.5" width="3.4" height="57" rx="1.5" fill="url(#postg)"/>
<rect x="251.8" y="122.2" width="5.2" height="2.6" rx="0.8" fill="#6b635f"/>
<path d="M250.0,127 L251.4,124.6 L257.4,124.6 L258.8,127 Z" fill="#7d7571"/>
<rect x="172.29999999999998" y="69.6" width="2.8" height="57" rx="1.3" fill="url(#postg)"/>
<rect x="171.29999999999998" y="122.2" width="4.8" height="2.6" rx="0.8" fill="#6b635f"/>
<path d="M169.5,127 L170.89999999999998,124.6 L176.5,124.6 L177.89999999999998,127 Z" fill="#7d7571"/>
<ellipse cx="173.7" cy="75.3" rx="4" ry="2.1" fill="#524c4a"/>
<ellipse cx="173.7" cy="75.05" rx="2.9" ry="1.05" fill="#d6d2ce"/>
<rect x="172.39999999999998" y="72.7" width="2.6" height="2" fill="#5a5350"/>
<ellipse cx="173.7" cy="88.8" rx="4" ry="2.1" fill="#524c4a"/>
<ellipse cx="173.7" cy="88.55" rx="2.9" ry="1.05" fill="#d6d2ce"/>
<rect x="172.39999999999998" y="86.2" width="2.6" height="2" fill="#5a5350"/>
<ellipse cx="173.7" cy="102.3" rx="4" ry="2.1" fill="#524c4a"/>
<ellipse cx="173.7" cy="102.05" rx="2.9" ry="1.05" fill="#d6d2ce"/>
<rect x="172.39999999999998" y="99.7" width="2.6" height="2" fill="#5a5350"/>
<ellipse cx="173.7" cy="115.8" rx="4" ry="2.1" fill="#524c4a"/>
<ellipse cx="173.7" cy="115.55" rx="2.9" ry="1.05" fill="#d6d2ce"/>
<rect x="172.39999999999998" y="113.2" width="2.6" height="2" fill="#5a5350"/>
<ellipse cx="191.2" cy="75.3" rx="2.6" ry="1.7" fill="#4a4543"/>
<ellipse cx="191.2" cy="75.1" rx="1.5" ry="0.7" fill="#c9c5c1"/>
<ellipse cx="191.2" cy="88.8" rx="2.6" ry="1.7" fill="#4a4543"/>
<ellipse cx="191.2" cy="88.6" rx="1.5" ry="0.7" fill="#c9c5c1"/>
<ellipse cx="191.2" cy="102.3" rx="2.6" ry="1.7" fill="#4a4543"/>
<ellipse cx="191.2" cy="102.1" rx="1.5" ry="0.7" fill="#c9c5c1"/>
<ellipse cx="191.2" cy="115.8" rx="2.6" ry="1.7" fill="#4a4543"/>
<ellipse cx="191.2" cy="115.6" rx="1.5" ry="0.7" fill="#c9c5c1"/>
<rect x="209.5" y="75.6" width="14.3" height="7.4" rx="0.8" fill="#c9d92a" stroke="#8d9a1c" stroke-width="0.7"/>
<path d="M211,81.6 L213.5,77 L216,81.6 Z" fill="#e9ef9a" stroke="#6c7a22" stroke-width="0.6"/>
<rect x="216.8" y="77.4" width="5.6" height="1.3" fill="#e3ea8c"/><rect x="216.8" y="79.8" width="5.6" height="1.3" fill="#e3ea8c"/>
<polyline points="175.6,81 177.3,81 177.3,124.4 184.9,124.4" fill="none" stroke="#a8d08c" stroke-width="0.8"/>
<polyline points="184.9,124.4 184.9,138.7 121.9,138.7" fill="none" stroke="#cfd9be" stroke-width="1.2"/>
<line x1="175.8" y1="94.5" x2="177.3" y2="94.5" stroke="#a8d08c" stroke-width="0.7"/>
<line x1="175.8" y1="108" x2="177.3" y2="108" stroke="#a8d08c" stroke-width="0.7"/>
<line x1="175.8" y1="120" x2="177.3" y2="120" stroke="#a8d08c" stroke-width="0.7"/>
</g>
<polyline points="410,311.9 438.8,311.9" fill="none" stroke="#d1d2bb" stroke-width="1.2" />
<g transform="translate(391.1,287.8)">
<rect x="0" y="0" width="19" height="32.6" rx="0.8" fill="url(#beigeg)"/>
<rect x="0" y="0" width="19" height="32.6" rx="0.8" fill="none" stroke="#bdb8a4" stroke-width="0.5"/>
<rect x="0.2" y="0.4" width="1.6" height="31.8" fill="#c7c3af" opacity="0.8"/>
<rect x="8.7" y="18.2" width="7.4" height="4" rx="0.4" fill="#dcb63c"/>
<rect x="9.8" y="19.4" width="5" height="1.1" fill="#efd87c"/>
<rect x="8.9" y="22.6" width="7" height="1.6" fill="#e3e0d3"/>
<rect x="5.4" y="32" width="10" height="2.2" fill="#6a655b"/>
<rect x="7.2" y="32.2" width="1.6" height="1.8" fill="#bdb9ad"/><rect x="11.6" y="32.2" width="1.6" height="1.8" fill="#bdb9ad"/>
</g>
<g transform="translate(287.8,150.8)" filter="url(#soft)">
<line x1="86.5" y1="249.8" x2="257.6" y2="249.8" stroke="#c3c1bf" stroke-width="1.1"/>
<line x1="86.5" y1="258.8" x2="257.6" y2="258.8" stroke="#c3c1bf" stroke-width="1.1"/>
<line x1="104" y1="249.8" x2="104" y2="258.8" stroke="#c3c1bf" stroke-width="1"/>
<line x1="122" y1="249.8" x2="122" y2="258.8" stroke="#c3c1bf" stroke-width="1"/>
<line x1="140.5" y1="249.8" x2="140.5" y2="258.8" stroke="#c3c1bf" stroke-width="1"/>
<line x1="158.5" y1="249.8" x2="158.5" y2="258.8" stroke="#c3c1bf" stroke-width="1"/>
<line x1="176.5" y1="249.8" x2="176.5" y2="258.8" stroke="#c3c1bf" stroke-width="1"/>
<line x1="194.3" y1="249.8" x2="194.3" y2="258.8" stroke="#c3c1bf" stroke-width="1"/>
<line x1="212.2" y1="249.8" x2="212.2" y2="258.8" stroke="#c3c1bf" stroke-width="1"/>
<line x1="230.3" y1="249.8" x2="230.3" y2="258.8" stroke="#c3c1bf" stroke-width="1"/>
<line x1="248.4" y1="249.8" x2="248.4" y2="258.8" stroke="#c3c1bf" stroke-width="1"/>
<line x1="97" y1="258.8" x2="97" y2="267.2" stroke="#c3c1bf" stroke-width="1"/>
<line x1="114.7" y1="258.8" x2="114.7" y2="267.2" stroke="#c3c1bf" stroke-width="1"/>
<line x1="132.6" y1="258.8" x2="132.6" y2="267.2" stroke="#c3c1bf" stroke-width="1"/>
<line x1="150.5" y1="258.8" x2="150.5" y2="267.2" stroke="#c3c1bf" stroke-width="1"/>
<line x1="168.5" y1="258.8" x2="168.5" y2="267.2" stroke="#c3c1bf" stroke-width="1"/>
<line x1="186.5" y1="258.8" x2="186.5" y2="267.2" stroke="#c3c1bf" stroke-width="1"/>
<line x1="204.5" y1="258.8" x2="204.5" y2="267.2" stroke="#c3c1bf" stroke-width="1"/>
<line x1="222.5" y1="258.8" x2="222.5" y2="267.2" stroke="#c3c1bf" stroke-width="1"/>
<line x1="240.5" y1="258.8" x2="240.5" y2="267.2" stroke="#c3c1bf" stroke-width="1"/>
<line x1="102" y1="214" x2="248.5" y2="214" stroke="#aaa5a1" stroke-width="1"/>
<line x1="102" y1="220.5" x2="248.5" y2="220.5" stroke="#dcaaa6" stroke-width="0.8"/>
<line x1="102" y1="227" x2="248.5" y2="227" stroke="#aaa5a1" stroke-width="1"/>
<line x1="102" y1="233.7" x2="248.5" y2="233.7" stroke="#dcaaa6" stroke-width="0.8"/>
<line x1="102" y1="239" x2="248.5" y2="239" stroke="#aaa5a1" stroke-width="1"/>
<line x1="102" y1="244.8" x2="248.5" y2="244.8" stroke="#dcaaa6" stroke-width="0.8"/>
<line x1="140.5" y1="212" x2="140.5" y2="250" stroke="#6f6966" stroke-width="0.95"/>
<rect x="139.6" y="213.3" width="1.8" height="1.4" fill="#5a5452"/>
<rect x="139.6" y="219.8" width="1.8" height="1.4" fill="#5a5452"/>
<rect x="139.6" y="226.3" width="1.8" height="1.4" fill="#5a5452"/>
<rect x="139.6" y="233.0" width="1.8" height="1.4" fill="#5a5452"/>
<rect x="139.6" y="238.3" width="1.8" height="1.4" fill="#5a5452"/>
<rect x="139.6" y="244.10000000000002" width="1.8" height="1.4" fill="#5a5452"/>
<line x1="176.6" y1="212" x2="176.6" y2="250" stroke="#6f6966" stroke-width="0.95"/>
<rect x="175.7" y="213.3" width="1.8" height="1.4" fill="#5a5452"/>
<rect x="175.7" y="219.8" width="1.8" height="1.4" fill="#5a5452"/>
<rect x="175.7" y="226.3" width="1.8" height="1.4" fill="#5a5452"/>
<rect x="175.7" y="233.0" width="1.8" height="1.4" fill="#5a5452"/>
<rect x="175.7" y="238.3" width="1.8" height="1.4" fill="#5a5452"/>
<rect x="175.7" y="244.10000000000002" width="1.8" height="1.4" fill="#5a5452"/>
<line x1="212.2" y1="212" x2="212.2" y2="250" stroke="#6f6966" stroke-width="0.95"/>
<rect x="211.29999999999998" y="213.3" width="1.8" height="1.4" fill="#5a5452"/>
<rect x="211.29999999999998" y="219.8" width="1.8" height="1.4" fill="#5a5452"/>
<rect x="211.29999999999998" y="226.3" width="1.8" height="1.4" fill="#5a5452"/>
<rect x="211.29999999999998" y="233.0" width="1.8" height="1.4" fill="#5a5452"/>
<rect x="211.29999999999998" y="238.3" width="1.8" height="1.4" fill="#5a5452"/>
<rect x="211.29999999999998" y="244.10000000000002" width="1.8" height="1.4" fill="#5a5452"/>
<line x1="102.2" y1="212.4" x2="102.2" y2="250" stroke="#6a6461" stroke-width="1.3"/>
<path d="M100.9,213.6 L102.2,211.6 L103.5,213.6 Z" fill="#6a6461"/>
<path d="M99.9,214 L102.2,212.8 L104.5,214 L102.2,215.2 Z" fill="#6f6966"/>
<path d="M99.9,220.5 L102.2,219.3 L104.5,220.5 L102.2,221.7 Z" fill="#6f6966"/>
<path d="M99.9,227 L102.2,225.8 L104.5,227 L102.2,228.2 Z" fill="#6f6966"/>
<path d="M99.9,233.7 L102.2,232.5 L104.5,233.7 L102.2,234.89999999999998 Z" fill="#6f6966"/>
<path d="M99.9,239 L102.2,237.8 L104.5,239 L102.2,240.2 Z" fill="#6f6966"/>
<path d="M99.9,244.8 L102.2,243.60000000000002 L104.5,244.8 L102.2,246.0 Z" fill="#6f6966"/>
<line x1="248.5" y1="212.4" x2="248.5" y2="250" stroke="#6a6461" stroke-width="1.3"/>
<path d="M247.2,213.6 L248.5,211.6 L249.8,213.6 Z" fill="#6a6461"/>
<path d="M246.2,214 L248.5,212.8 L250.8,214 L248.5,215.2 Z" fill="#6f6966"/>
<path d="M246.2,220.5 L248.5,219.3 L250.8,220.5 L248.5,221.7 Z" fill="#6f6966"/>
<path d="M246.2,227 L248.5,225.8 L250.8,227 L248.5,228.2 Z" fill="#6f6966"/>
<path d="M246.2,233.7 L248.5,232.5 L250.8,233.7 L248.5,234.89999999999998 Z" fill="#6f6966"/>
<path d="M246.2,239 L248.5,237.8 L250.8,239 L248.5,240.2 Z" fill="#6f6966"/>
<path d="M246.2,244.8 L248.5,243.60000000000002 L250.8,244.8 L248.5,246.0 Z" fill="#6f6966"/>
<rect x="134.5" y="214.4" width="13" height="5" rx="0.5" fill="#f3d27a" stroke="#d9a93a" stroke-width="0.5"/>
<path d="M135.6,215.2 L138.2,216.9 L135.6,218.6 Z" fill="#d8831e"/>
<rect x="141" y="216.4" width="5.6" height="1.4" fill="#b58a3c"/>
<rect x="91.3" y="237.8" width="2.6" height="8.6" rx="1.1" fill="#7c1f1c"/>
<line x1="89.6" y1="239.6" x2="95.6" y2="239.6" stroke="#8a2a25" stroke-width="1"/>
<line x1="89.6" y1="241.4" x2="95.6" y2="241.4" stroke="#8a2a25" stroke-width="1"/>
<line x1="89.6" y1="243.2" x2="95.6" y2="243.2" stroke="#8a2a25" stroke-width="1"/>
<line x1="89.6" y1="245" x2="95.6" y2="245" stroke="#8a2a25" stroke-width="1"/>
<polyline points="90,246.8 95.6,246.8 95.6,249.6" fill="none" stroke="#8e8a88" stroke-width="0.7"/>
<line x1="92.5" y1="237.6" x2="101.4" y2="213.6" stroke="#b6d8a0" stroke-width="0.6"/>
<line x1="95.4" y1="237.6" x2="99.3" y2="237.6" stroke="#b6d8a0" stroke-width="0.6"/>
<line x1="101.6" y1="213.6" x2="99.3" y2="238" stroke="#a9d48a" stroke-width="0.7"/>
<line x1="99.3" y1="237.4" x2="99.3" y2="262.4" stroke="#8cc63f" stroke-width="1.15"/>
<line x1="244.6" y1="216" x2="244.6" y2="244.6" stroke="#d5e5a5" stroke-width="0.8"/>
</g>
<polyline points="404.8,437 404.8,446.2 438.8,446.2" fill="none" stroke="#cdc3b3" stroke-width="1.1" />
<g transform="translate(377.9,412.6)">
<rect x="0" y="0" width="37" height="24.6" rx="3.4" fill="url(#pulseg)"/>
<rect x="2" y="0.2" width="33" height="1.5" rx="0.7" fill="#64748a" opacity="0.85"/>
<rect x="20.4" y="4.6" width="10.8" height="9.4" rx="0.6" fill="#3b3433"/>
<rect x="21.5" y="5.7" width="8.6" height="7.2" fill="url(#scrg)"/>
<rect x="3.3" y="5.6" width="4" height="4.2" rx="0.5" fill="#eef1f5"/>
<rect x="4.5" y="6.6" width="1.6" height="2.2" fill="#8896ab"/>
<rect x="8.4" y="7" width="9.6" height="1.5" fill="#c3cbd7" opacity="0.85"/>
</g>
<polyline points="784.6,98.9 784.6,108.9 750,108.9" fill="none" stroke="#cbc9c7" stroke-width="1.1" />
<polyline points="811.6,97.8 811.6,113.6 750,113.6" fill="none" stroke="#cbc9c7" stroke-width="1.1" />
<polyline points="855.7,96.7 855.7,118.4 750,118.4" fill="none" stroke="#cbc9c7" stroke-width="1.1" />
<polyline points="735,141 735,151.2 768.8,151.2" fill="none" stroke="#d8c9ba" stroke-width="1.1" />
<polyline points="708.6,118.5 720,118.5" fill="none" stroke="#d5ccc2" stroke-width="1.1" />
<g transform="translate(693.2,103.2)">
<path d="M1.6,0 H13.9 Q15.4,0 15.4,1.6 V14 H0 V1.6 Q0,0 1.6,0 Z" fill="url(#sirr)"/>
<path d="M0,13.6 C0.5,10.2 3.8,8.5 7.7,8.5 C11.6,8.5 14.9,10.2 15.4,13.6 V25.6 Q15.4,27.8 13.2,27.8 H2.2 Q0,27.8 0,25.6 Z" fill="url(#sirw)"/>
<circle cx="7.3" cy="23.2" r="0.9" fill="#7c8a86"/>
</g>
<g transform="translate(719.8,94.5)">
<path d="M0,43.6 L30.3,41.2 L30.3,44.5 L0.3,46.9 Z" fill="#f0d6cc"/>
<path d="M0,1 L30,0 L30.3,42.1 L0,44.6 Z" fill="#1d1a18"/>
<path d="M5.2,5.4 L24.8,4.8 L24.8,11.6 L5.2,12.2 Z" fill="#a3ab73"/>
<path d="M5.2,5.4 L24.8,4.8 L24.8,6.4 L5.2,7 Z" fill="#8d9660" opacity="0.7"/>
<line x1="3.6" y1="23.0" x2="27" y2="22.400000000000002" stroke="#34302d" stroke-width="0.6"/>
<circle cx="5.6" cy="19.6" r="0.9" fill="#45403c"/>
<circle cx="12.0" cy="19.5" r="0.9" fill="#45403c"/>
<circle cx="18.4" cy="19.400000000000002" r="0.9" fill="#45403c"/>
<circle cx="24.800000000000004" cy="19.3" r="0.9" fill="#45403c"/>
<line x1="3.6" y1="29.799999999999997" x2="27" y2="29.2" stroke="#34302d" stroke-width="0.6"/>
<circle cx="5.6" cy="26.4" r="0.9" fill="#45403c"/>
<circle cx="12.0" cy="26.299999999999997" r="0.9" fill="#45403c"/>
<circle cx="18.4" cy="26.2" r="0.9" fill="#45403c"/>
<circle cx="24.800000000000004" cy="26.099999999999998" r="0.9" fill="#45403c"/>
<line x1="3.6" y1="36.4" x2="27" y2="35.8" stroke="#34302d" stroke-width="0.6"/>
<circle cx="5.6" cy="33.0" r="0.9" fill="#45403c"/>
<circle cx="12.0" cy="32.9" r="0.9" fill="#45403c"/>
<circle cx="18.4" cy="32.8" r="0.9" fill="#45403c"/>
<circle cx="24.800000000000004" cy="32.7" r="0.9" fill="#45403c"/>
<line x1="3.6" y1="42.8" x2="27" y2="42.199999999999996" stroke="#34302d" stroke-width="0.6"/>
<circle cx="5.6" cy="39.4" r="0.9" fill="#45403c"/>
<circle cx="12.0" cy="39.3" r="0.9" fill="#45403c"/>
<circle cx="18.4" cy="39.199999999999996" r="0.9" fill="#45403c"/>
<circle cx="24.800000000000004" cy="39.1" r="0.9" fill="#45403c"/>
<line x1="8" y1="14.8" x2="23" y2="14.4" stroke="#3a3a46" stroke-width="0.8"/>
</g>
<g transform="translate(0,0)">
<path d="M781.4,79 H788.8 Q790.5,79 790.5,81 V97.4 Q790.5,98.9 788.8,98.9 H781.4 Q779.7,98.9 779.7,97.4 V81 Q779.7,79 781.4,79 Z" fill="url(#pirg)"/>
<rect x="780.4" y="87.4" width="9.4" height="3.6" fill="#dedad6" opacity="0.9"/>
<rect x="783.8" y="85" width="2.6" height="1" fill="#c9c3be"/>
<circle cx="811.6" cy="90.5" r="7.3" fill="url(#gasg)"/>
<circle cx="811.6" cy="90.5" r="7.3" fill="none" stroke="#d2cdc8" stroke-width="0.5"/>
<path d="M806.6,88.2 Q807.6,85.2 810.4,84.6 L810.8,87.4 Q809.4,87.6 808.8,89 Z" fill="#5f5b59"/>
<path d="M816.6,88.2 Q815.6,85.2 812.8,84.6 L812.4,87.4 Q813.8,87.6 814.4,89 Z" fill="#5f5b59"/>
<rect x="810.8" y="88.6" width="1.6" height="3.4" fill="#cfc9c4"/>
<circle cx="811.6" cy="94.4" r="0.8" fill="#b6b0ab"/>
<circle cx="827.2" cy="88.6" r="1.25" fill="#c81e18"/>
<circle cx="833.8" cy="88.6" r="1.25" fill="#c81e18"/>
<circle cx="840.4" cy="88.6" r="1.25" fill="#c81e18"/>
<rect x="849.4" y="84.3" width="12.8" height="12.4" rx="0.6" fill="url(#btng)"/>
<circle cx="855.7" cy="90.8" r="1.6" fill="#5a1717"/>
<circle cx="855.7" cy="90.8" r="0.8" fill="#a02a26"/>
</g>
<polyline points="784.6,257.9 784.6,268.6 750,268.6" fill="none" stroke="#cbc9c7" stroke-width="1.1" />
<polyline points="811.6,256.8 811.6,273.29999999999995 750,273.29999999999995" fill="none" stroke="#cbc9c7" stroke-width="1.1" />
<polyline points="855.7,255.7 855.7,278.1 750,278.1" fill="none" stroke="#cbc9c7" stroke-width="1.1" />
<polyline points="735,301.2 735,311.4 768.8,311.4" fill="none" stroke="#d8c9ba" stroke-width="1.1" />
<g transform="translate(719.8,253.7)">
<path d="M0,43.6 L30.3,41.2 L30.3,44.5 L0.3,46.9 Z" fill="#f0d6cc"/>
<path d="M0,1 L30,0 L30.3,42.1 L0,44.6 Z" fill="#1d1a18"/>
<path d="M5.2,5.4 L24.8,4.8 L24.8,11.6 L5.2,12.2 Z" fill="#a3ab73"/>
<path d="M5.2,5.4 L24.8,4.8 L24.8,6.4 L5.2,7 Z" fill="#8d9660" opacity="0.7"/>
<line x1="3.6" y1="23.0" x2="27" y2="22.400000000000002" stroke="#34302d" stroke-width="0.6"/>
<circle cx="5.6" cy="19.6" r="0.9" fill="#45403c"/>
<circle cx="12.0" cy="19.5" r="0.9" fill="#45403c"/>
<circle cx="18.4" cy="19.400000000000002" r="0.9" fill="#45403c"/>
<circle cx="24.800000000000004" cy="19.3" r="0.9" fill="#45403c"/>
<line x1="3.6" y1="29.799999999999997" x2="27" y2="29.2" stroke="#34302d" stroke-width="0.6"/>
<circle cx="5.6" cy="26.4" r="0.9" fill="#45403c"/>
<circle cx="12.0" cy="26.299999999999997" r="0.9" fill="#45403c"/>
<circle cx="18.4" cy="26.2" r="0.9" fill="#45403c"/>
<circle cx="24.800000000000004" cy="26.099999999999998" r="0.9" fill="#45403c"/>
<line x1="3.6" y1="36.4" x2="27" y2="35.8" stroke="#34302d" stroke-width="0.6"/>
<circle cx="5.6" cy="33.0" r="0.9" fill="#45403c"/>
<circle cx="12.0" cy="32.9" r="0.9" fill="#45403c"/>
<circle cx="18.4" cy="32.8" r="0.9" fill="#45403c"/>
<circle cx="24.800000000000004" cy="32.7" r="0.9" fill="#45403c"/>
<line x1="3.6" y1="42.8" x2="27" y2="42.199999999999996" stroke="#34302d" stroke-width="0.6"/>
<circle cx="5.6" cy="39.4" r="0.9" fill="#45403c"/>
<circle cx="12.0" cy="39.3" r="0.9" fill="#45403c"/>
<circle cx="18.4" cy="39.199999999999996" r="0.9" fill="#45403c"/>
<circle cx="24.800000000000004" cy="39.1" r="0.9" fill="#45403c"/>
<line x1="8" y1="14.8" x2="23" y2="14.4" stroke="#3a3a46" stroke-width="0.8"/>
</g>
<g transform="translate(0,159.0)">
<path d="M781.4,79 H788.8 Q790.5,79 790.5,81 V97.4 Q790.5,98.9 788.8,98.9 H781.4 Q779.7,98.9 779.7,97.4 V81 Q779.7,79 781.4,79 Z" fill="url(#pirg)"/>
<rect x="780.4" y="87.4" width="9.4" height="3.6" fill="#dedad6" opacity="0.9"/>
<rect x="783.8" y="85" width="2.6" height="1" fill="#c9c3be"/>
<circle cx="811.6" cy="90.5" r="7.3" fill="url(#gasg)"/>
<circle cx="811.6" cy="90.5" r="7.3" fill="none" stroke="#d2cdc8" stroke-width="0.5"/>
<path d="M806.6,88.2 Q807.6,85.2 810.4,84.6 L810.8,87.4 Q809.4,87.6 808.8,89 Z" fill="#5f5b59"/>
<path d="M816.6,88.2 Q815.6,85.2 812.8,84.6 L812.4,87.4 Q813.8,87.6 814.4,89 Z" fill="#5f5b59"/>
<rect x="810.8" y="88.6" width="1.6" height="3.4" fill="#cfc9c4"/>
<circle cx="811.6" cy="94.4" r="0.8" fill="#b6b0ab"/>
<circle cx="827.2" cy="89.79999999999998" r="1.25" fill="#c81e18"/>
<circle cx="833.8" cy="89.79999999999998" r="1.25" fill="#c81e18"/>
<circle cx="840.4" cy="89.79999999999998" r="1.25" fill="#c81e18"/>
<rect x="849.4" y="84.3" width="12.8" height="12.4" rx="0.6" fill="url(#btng)"/>
<circle cx="855.7" cy="90.8" r="1.6" fill="#5a1717"/>
<circle cx="855.7" cy="90.8" r="0.8" fill="#a02a26"/>
</g>
<polyline points="784.6,392.9 784.6,403.6 750,403.6" fill="none" stroke="#cbc9c7" stroke-width="1.1" />
<polyline points="811.6,391.8 811.6,408.29999999999995 750,408.29999999999995" fill="none" stroke="#cbc9c7" stroke-width="1.1" />
<polyline points="855.7,390.7 855.7,413.1 750,413.1" fill="none" stroke="#cbc9c7" stroke-width="1.1" />
<polyline points="735,436.2 735,446.4 768.8,446.4" fill="none" stroke="#d8c9ba" stroke-width="1.1" />
<g transform="translate(719.8,388.7)">
<path d="M0,43.6 L30.3,41.2 L30.3,44.5 L0.3,46.9 Z" fill="#f0d6cc"/>
<path d="M0,1 L30,0 L30.3,42.1 L0,44.6 Z" fill="#1d1a18"/>
<path d="M5.2,5.4 L24.8,4.8 L24.8,11.6 L5.2,12.2 Z" fill="#a3ab73"/>
<path d="M5.2,5.4 L24.8,4.8 L24.8,6.4 L5.2,7 Z" fill="#8d9660" opacity="0.7"/>
<line x1="3.6" y1="23.0" x2="27" y2="22.400000000000002" stroke="#34302d" stroke-width="0.6"/>
<circle cx="5.6" cy="19.6" r="0.9" fill="#45403c"/>
<circle cx="12.0" cy="19.5" r="0.9" fill="#45403c"/>
<circle cx="18.4" cy="19.400000000000002" r="0.9" fill="#45403c"/>
<circle cx="24.800000000000004" cy="19.3" r="0.9" fill="#45403c"/>
<line x1="3.6" y1="29.799999999999997" x2="27" y2="29.2" stroke="#34302d" stroke-width="0.6"/>
<circle cx="5.6" cy="26.4" r="0.9" fill="#45403c"/>
<circle cx="12.0" cy="26.299999999999997" r="0.9" fill="#45403c"/>
<circle cx="18.4" cy="26.2" r="0.9" fill="#45403c"/>
<circle cx="24.800000000000004" cy="26.099999999999998" r="0.9" fill="#45403c"/>
<line x1="3.6" y1="36.4" x2="27" y2="35.8" stroke="#34302d" stroke-width="0.6"/>
<circle cx="5.6" cy="33.0" r="0.9" fill="#45403c"/>
<circle cx="12.0" cy="32.9" r="0.9" fill="#45403c"/>
<circle cx="18.4" cy="32.8" r="0.9" fill="#45403c"/>
<circle cx="24.800000000000004" cy="32.7" r="0.9" fill="#45403c"/>
<line x1="3.6" y1="42.8" x2="27" y2="42.199999999999996" stroke="#34302d" stroke-width="0.6"/>
<circle cx="5.6" cy="39.4" r="0.9" fill="#45403c"/>
<circle cx="12.0" cy="39.3" r="0.9" fill="#45403c"/>
<circle cx="18.4" cy="39.199999999999996" r="0.9" fill="#45403c"/>
<circle cx="24.800000000000004" cy="39.1" r="0.9" fill="#45403c"/>
<line x1="8" y1="14.8" x2="23" y2="14.4" stroke="#3a3a46" stroke-width="0.8"/>
</g>
<g transform="translate(0,294.0)">
<path d="M781.4,79 H788.8 Q790.5,79 790.5,81 V97.4 Q790.5,98.9 788.8,98.9 H781.4 Q779.7,98.9 779.7,97.4 V81 Q779.7,79 781.4,79 Z" fill="url(#pirg)"/>
<rect x="780.4" y="87.4" width="9.4" height="3.6" fill="#dedad6" opacity="0.9"/>
<rect x="783.8" y="85" width="2.6" height="1" fill="#c9c3be"/>
<circle cx="811.6" cy="90.5" r="7.3" fill="url(#gasg)"/>
<circle cx="811.6" cy="90.5" r="7.3" fill="none" stroke="#d2cdc8" stroke-width="0.5"/>
<path d="M806.6,88.2 Q807.6,85.2 810.4,84.6 L810.8,87.4 Q809.4,87.6 808.8,89 Z" fill="#5f5b59"/>
<path d="M816.6,88.2 Q815.6,85.2 812.8,84.6 L812.4,87.4 Q813.8,87.6 814.4,89 Z" fill="#5f5b59"/>
<rect x="810.8" y="88.6" width="1.6" height="3.4" fill="#cfc9c4"/>
<circle cx="811.6" cy="94.4" r="0.8" fill="#b6b0ab"/>
<circle cx="827.2" cy="89.79999999999998" r="1.25" fill="#c81e18"/>
<circle cx="833.8" cy="89.79999999999998" r="1.25" fill="#c81e18"/>
<circle cx="840.4" cy="89.79999999999998" r="1.25" fill="#c81e18"/>
<rect x="849.4" y="84.3" width="12.8" height="12.4" rx="0.6" fill="url(#btng)"/>
<circle cx="855.7" cy="90.8" r="1.6" fill="#5a1717"/>
<circle cx="855.7" cy="90.8" r="0.8" fill="#a02a26"/>
</g>
<rect x="164.5" y="431.7" width="67.1" height="26.80000000000001" fill="#a3d6ef"/>
<text x="198.55" y="447.70000000000005" font-size="6.9" fill="#22303c" font-weight="500" letter-spacing="0.9" text-anchor="middle" >网络交换机</text>
<rect x="438.8" y="137" width="67.09999999999997" height="26.69999999999999" fill="#a3d6ef"/>
<text x="472.85" y="152.95" font-size="6.9" fill="#22303c" font-weight="500" letter-spacing="0.9" text-anchor="middle" >网络交换机</text>
<rect x="768.8" y="137" width="67.10000000000002" height="26.69999999999999" fill="#a3d6ef"/>
<text x="802.8499999999999" y="152.95" font-size="6.9" fill="#22303c" font-weight="500" letter-spacing="0.9" text-anchor="middle" >网络交换机</text>
<rect x="438.8" y="297.2" width="67.09999999999997" height="26.69999999999999" fill="#a3d6ef"/>
<text x="472.85" y="313.15" font-size="6.9" fill="#22303c" font-weight="500" letter-spacing="0.9" text-anchor="middle" >网络交换机</text>
<rect x="768.8" y="297.2" width="67.10000000000002" height="26.69999999999999" fill="#a3d6ef"/>
<text x="802.8499999999999" y="313.15" font-size="6.9" fill="#22303c" font-weight="500" letter-spacing="0.9" text-anchor="middle" >网络交换机</text>
<rect x="438.8" y="432.2" width="67.09999999999997" height="26.69999999999999" fill="#a3d6ef"/>
<text x="472.85" y="448.15" font-size="6.9" fill="#22303c" font-weight="500" letter-spacing="0.9" text-anchor="middle" >网络交换机</text>
<rect x="768.8" y="432.2" width="67.10000000000002" height="26.69999999999999" fill="#a3d6ef"/>
<text x="802.8499999999999" y="448.15" font-size="6.9" fill="#22303c" font-weight="500" letter-spacing="0.9" text-anchor="middle" >网络交换机</text>
<polyline points="181,611.4 333.6,611.4" fill="none" stroke="#a28567" stroke-width="1.3" />
<polyline points="400.8,611.4 539.6,611.4 539.6,560" fill="none" stroke="#a28567" stroke-width="1.3" />
<polyline points="365.5,626 365.5,648 502.8,648" fill="none" stroke="#a28567" stroke-width="1.3" />
<polyline points="569.2,647.4 654.6,588.4" fill="none" stroke="#3a3a3a" stroke-width="1.15" stroke-dasharray="3 1.9"/>
<rect x="333.6" y="599.2" width="67.19999999999999" height="26.799999999999955" fill="#a3d6ef"/>
<text x="367.70000000000005" y="615.2" font-size="6.9" fill="#22303c" font-weight="500" letter-spacing="0.9" text-anchor="middle" >网络交换机</text>
<rect x="502.8" y="634.8" width="66.40000000000003" height="26.5" fill="#a3d6ef"/>
<text x="536.5" y="650.65" font-size="6.9" fill="#22303c" font-weight="500" letter-spacing="0.35" text-anchor="middle" >微信控制模块</text>
<path d="M112.2,565 H178 Q180.6,565 180.6,567.6 V617.6 H109.6 V567.6 Q109.6,565 112.2,565 Z" fill="#dfe5e8"/>
<rect x="115" y="569.8" width="60" height="42.3" fill="#f6f7f8"/>
<rect x="115" y="569.8" width="60" height="1.4" fill="#8aa2cc"/>
<rect x="115" y="571.2" width="60" height="3.6" fill="#eef1f6"/>
<rect x="146.8" y="572.6" width="1.5" height="1.6" fill="#4a557e"/>
<rect x="149.3" y="572.6" width="1.5" height="1.6" fill="#4a557e"/>
<rect x="151.8" y="572.6" width="1.5" height="1.6" fill="#4a557e"/>
<rect x="154.3" y="572.6" width="1.5" height="1.6" fill="#4a557e"/>
<rect x="156.8" y="572.6" width="1.5" height="1.6" fill="#4a557e"/>
<rect x="159.3" y="572.6" width="1.5" height="1.6" fill="#4a557e"/>
<rect x="161.8" y="572.6" width="1.5" height="1.6" fill="#4a557e"/>
<rect x="164.3" y="572.6" width="1.5" height="1.6" fill="#4a557e"/>
<rect x="166.8" y="572.6" width="1.5" height="1.6" fill="#4a557e"/>
<rect x="169.3" y="572.6" width="1.5" height="1.6" fill="#4a557e"/>
<rect x="171.8" y="572.6" width="1.5" height="1.6" fill="#4a557e"/>
<clipPath id="phclip"><rect x="115.5" y="575.7" width="45.9" height="33.1"/></clipPath>
<g clip-path="url(#phclip)">
<rect x="115.5" y="575.7" width="45.9" height="33.1" fill="url(#skyg)"/>
<ellipse cx="151.5" cy="582.4" rx="7.4" ry="2.7" fill="#f4f6fa" opacity="0.95"/>
<ellipse cx="148.8" cy="580" rx="2.6" ry="2.2" fill="#f4f6fa" opacity="0.95"/>
<ellipse cx="155" cy="581" rx="3" ry="1.8" fill="#f4f6fa" opacity="0.9"/>
<path d="M115.5,576.4 L119,577 L122.4,580.4 V608 H115.5 Z" fill="#8f7669"/>
<rect x="116.6" y="579.6" width="0.7" height="27" fill="#cdbfb5" opacity="0.8"/>
<rect x="118.4" y="579.6" width="0.7" height="27" fill="#cdbfb5" opacity="0.8"/>
<rect x="120.2" y="579.6" width="0.7" height="27" fill="#cdbfb5" opacity="0.8"/>
<path d="M125.2,590.4 L128,589.6 L131,590.6 V606 H125.2 Z" fill="#9c8375"/>
<rect x="127.2" y="591" width="0.8" height="14" fill="#d8ccc3" opacity="0.8"/>
<rect x="132.6" y="596" width="3.6" height="9" fill="#e8e6e4"/>
<path d="M138.4,596.4 L142,594.8 L147,595 L152,594.6 L155.6,596.6 V606 H138.4 Z" fill="#94796b"/>
<rect x="140.4" y="596.4" width="0.9" height="9" fill="#c9b9ad" opacity="0.75"/>
<rect x="143.4" y="596.4" width="0.9" height="9" fill="#c9b9ad" opacity="0.75"/>
<rect x="146.6" y="596.4" width="0.9" height="9" fill="#c9b9ad" opacity="0.75"/>
<rect x="149.8" y="596.4" width="0.9" height="9" fill="#c9b9ad" opacity="0.75"/>
<rect x="153" y="596.4" width="0.9" height="9" fill="#c9b9ad" opacity="0.75"/>
<path d="M115.5,603.6 Q119,599.6 123,603 Q125,598.6 128,602.6 Q133,600.4 137,603.2 Q143,601.4 149,603.4 Q154,600.8 158,602.4 Q160,598.4 161.4,600 V608.8 H115.5 Z" fill="#46592f"/>
<ellipse cx="123.4" cy="598.6" rx="1.3" ry="2.2" fill="#33421f"/>
<ellipse cx="160.6" cy="598" rx="1.2" ry="2.4" fill="#33421f"/>
<rect x="115.5" y="606.6" width="45.9" height="2.2" fill="#5c6350"/>
</g>
<rect x="163.4" y="579.6" width="1.7" height="1.7" fill="#525d88"/><rect x="165.6" y="580.0" width="2.4" height="0.9" fill="#a3abc3"/>
<rect x="169.6" y="579.6" width="1.7" height="1.7" fill="#525d88"/><rect x="171.79999999999998" y="580.0" width="2.4" height="0.9" fill="#a3abc3"/>
<rect x="163.4" y="582.6" width="1.7" height="1.7" fill="#525d88"/><rect x="165.6" y="583.0" width="2.4" height="0.9" fill="#a3abc3"/>
<rect x="169.6" y="582.6" width="1.7" height="1.7" fill="#525d88"/><rect x="171.79999999999998" y="583.0" width="2.4" height="0.9" fill="#a3abc3"/>
<rect x="163.4" y="585.6" width="1.7" height="1.7" fill="#525d88"/><rect x="165.6" y="586.0" width="2.4" height="0.9" fill="#a3abc3"/>
<rect x="169.6" y="585.6" width="1.7" height="1.7" fill="#525d88"/><rect x="171.79999999999998" y="586.0" width="2.4" height="0.9" fill="#a3abc3"/>
<rect x="163.4" y="589.4" width="1.7" height="1.7" fill="#525d88"/><rect x="165.6" y="589.8" width="2.4" height="0.9" fill="#a3abc3"/>
<rect x="169.6" y="589.4" width="1.7" height="1.7" fill="#525d88"/><rect x="171.79999999999998" y="589.8" width="2.4" height="0.9" fill="#a3abc3"/>
<rect x="163.4" y="592.2" width="1.7" height="1.7" fill="#525d88"/><rect x="165.6" y="592.6" width="2.4" height="0.9" fill="#a3abc3"/>
<rect x="169.6" y="592.2" width="1.7" height="1.7" fill="#525d88"/><rect x="171.79999999999998" y="592.6" width="2.4" height="0.9" fill="#a3abc3"/>
<rect x="163.4" y="596.2" width="1.7" height="1.7" fill="#525d88"/><rect x="165.6" y="596.6" width="2.4" height="0.9" fill="#a3abc3"/>
<rect x="169.6" y="596.2" width="1.7" height="1.7" fill="#525d88"/><rect x="171.79999999999998" y="596.6" width="2.4" height="0.9" fill="#a3abc3"/>
<rect x="163.4" y="599" width="1.7" height="1.7" fill="#525d88"/><rect x="165.6" y="599.4" width="2.4" height="0.9" fill="#a3abc3"/>
<rect x="169.6" y="599" width="1.7" height="1.7" fill="#525d88"/><rect x="171.79999999999998" y="599.4" width="2.4" height="0.9" fill="#a3abc3"/>
<rect x="163.4" y="601.9" width="1.7" height="1.7" fill="#525d88"/><rect x="165.6" y="602.3" width="2.4" height="0.9" fill="#a3abc3"/>
<rect x="169.6" y="601.9" width="1.7" height="1.7" fill="#525d88"/><rect x="171.79999999999998" y="602.3" width="2.4" height="0.9" fill="#a3abc3"/>
<rect x="115.8" y="610.4" width="10.6" height="0.9" fill="#c2c6cd"/>
<path d="M109.4,617.3 H180.8 L185.6,626 Q186.6,630.6 182.6,630.6 H106.6 Q102.4,630.6 103.2,626 Z" fill="url(#baseg)"/>
<rect x="104" y="626.1" width="81.4" height="1.5" fill="#f2f4f5" opacity="0.95"/>
<rect x="134.6" y="619.8" width="21.8" height="2.8" rx="1.2" fill="#eff2f4"/>
<clipPath id="cloudclip"><path d="M467.7,541 C467.1,540.7 464.9,540.0 463.9,539.1 C462.8,538.2 461.9,537.2 461.4,535.9 C460.9,534.6 460.7,533.2 460.7,531.5 C460.7,529.8 460.8,527.3 461.4,525.7 C462.0,524.1 463.3,522.8 464.5,521.9 C465.7,521.0 467.8,520.6 468.4,520.4 C468.5,519.6 468.1,517.1 469.0,515.5 C469.9,513.9 471.8,511.8 474.1,510.5 C476.4,509.2 480.0,508.4 483.0,507.9 C486.0,507.4 490.4,507.7 491.9,507.7 C492.3,506.9 492.8,504.4 494.5,502.8 C496.2,501.2 499.1,499.3 502.1,498.4 C505.1,497.5 509.0,497.3 512.3,497.5 C515.6,497.7 520.2,499.2 521.8,499.6 C522.5,498.9 523.8,496.2 526.3,495.2 C528.8,494.1 534.2,493.7 536.5,493.3 C538.8,492.9 537.9,492.8 540.2,492.9 C542.5,493.0 547.2,493.2 550.4,493.9 C553.6,494.6 557.0,495.8 559.3,497.1 C561.6,498.4 563.2,500.3 564.4,501.5 C565.6,502.7 566.0,503.7 566.3,504.1 C567.5,503.9 570.4,502.8 573.3,502.8 C576.2,502.8 580.3,503.2 583.5,504.1 C586.7,505.1 590.1,506.9 592.4,508.5 C594.7,510.1 596.5,512.3 597.5,513.6 C598.5,514.9 598.5,515.8 598.7,516.2 C599.6,516.2 602.0,515.7 603.8,516.2 C605.6,516.7 608.1,518.0 609.6,519.4 C611.1,520.8 612.1,522.8 612.7,524.5 C613.3,526.2 613.4,527.7 613.4,529.6 C613.4,531.5 613.3,534.0 612.7,535.9 C612.1,537.8 610.9,539.6 609.6,541.0 C608.3,542.4 605.9,543.7 605.1,544.2 C604.8,544.9 604.5,547.0 603.2,548.6 C601.9,550.2 599.5,552.4 597.5,553.7 C595.5,555.0 592.4,555.8 591.1,556.3 C589.8,556.8 590.0,556.5 589.8,556.5 C589.2,557.3 587.9,560.0 586.0,561.4 C584.1,562.8 581.4,563.9 578.4,564.6 C575.4,565.3 571.5,566.0 568.2,565.8 C564.9,565.6 560.2,563.7 558.6,563.3 C557.6,563.8 555.5,565.9 552.9,566.5 C550.2,567.1 545.0,567.1 542.7,567.1 C540.4,567.1 541.1,566.6 539.0,566.5 C536.9,566.4 533.1,566.8 530.1,566.5 C527.1,566.2 523.6,565.6 521.2,564.6 C518.8,563.6 516.5,561.4 515.5,560.7 C514.1,560.8 510.1,561.7 507.2,561.4 C504.3,561.1 500.9,560.0 498.3,558.8 C495.8,557.6 493.4,555.9 491.9,554.4 C490.4,552.9 489.8,550.6 489.4,549.9 C488.3,549.9 485.3,550.1 483.0,549.9 C480.7,549.7 477.6,549.3 475.4,548.6 C473.2,547.9 470.9,546.8 469.6,545.5 C468.3,544.2 468.0,541.8 467.7,541.0 Z"/></clipPath>
<path d="M467.7,541 C467.1,540.7 464.9,540.0 463.9,539.1 C462.8,538.2 461.9,537.2 461.4,535.9 C460.9,534.6 460.7,533.2 460.7,531.5 C460.7,529.8 460.8,527.3 461.4,525.7 C462.0,524.1 463.3,522.8 464.5,521.9 C465.7,521.0 467.8,520.6 468.4,520.4 C468.5,519.6 468.1,517.1 469.0,515.5 C469.9,513.9 471.8,511.8 474.1,510.5 C476.4,509.2 480.0,508.4 483.0,507.9 C486.0,507.4 490.4,507.7 491.9,507.7 C492.3,506.9 492.8,504.4 494.5,502.8 C496.2,501.2 499.1,499.3 502.1,498.4 C505.1,497.5 509.0,497.3 512.3,497.5 C515.6,497.7 520.2,499.2 521.8,499.6 C522.5,498.9 523.8,496.2 526.3,495.2 C528.8,494.1 534.2,493.7 536.5,493.3 C538.8,492.9 537.9,492.8 540.2,492.9 C542.5,493.0 547.2,493.2 550.4,493.9 C553.6,494.6 557.0,495.8 559.3,497.1 C561.6,498.4 563.2,500.3 564.4,501.5 C565.6,502.7 566.0,503.7 566.3,504.1 C567.5,503.9 570.4,502.8 573.3,502.8 C576.2,502.8 580.3,503.2 583.5,504.1 C586.7,505.1 590.1,506.9 592.4,508.5 C594.7,510.1 596.5,512.3 597.5,513.6 C598.5,514.9 598.5,515.8 598.7,516.2 C599.6,516.2 602.0,515.7 603.8,516.2 C605.6,516.7 608.1,518.0 609.6,519.4 C611.1,520.8 612.1,522.8 612.7,524.5 C613.3,526.2 613.4,527.7 613.4,529.6 C613.4,531.5 613.3,534.0 612.7,535.9 C612.1,537.8 610.9,539.6 609.6,541.0 C608.3,542.4 605.9,543.7 605.1,544.2 C604.8,544.9 604.5,547.0 603.2,548.6 C601.9,550.2 599.5,552.4 597.5,553.7 C595.5,555.0 592.4,555.8 591.1,556.3 C589.8,556.8 590.0,556.5 589.8,556.5 C589.2,557.3 587.9,560.0 586.0,561.4 C584.1,562.8 581.4,563.9 578.4,564.6 C575.4,565.3 571.5,566.0 568.2,565.8 C564.9,565.6 560.2,563.7 558.6,563.3 C557.6,563.8 555.5,565.9 552.9,566.5 C550.2,567.1 545.0,567.1 542.7,567.1 C540.4,567.1 541.1,566.6 539.0,566.5 C536.9,566.4 533.1,566.8 530.1,566.5 C527.1,566.2 523.6,565.6 521.2,564.6 C518.8,563.6 516.5,561.4 515.5,560.7 C514.1,560.8 510.1,561.7 507.2,561.4 C504.3,561.1 500.9,560.0 498.3,558.8 C495.8,557.6 493.4,555.9 491.9,554.4 C490.4,552.9 489.8,550.6 489.4,549.9 C488.3,549.9 485.3,550.1 483.0,549.9 C480.7,549.7 477.6,549.3 475.4,548.6 C473.2,547.9 470.9,546.8 469.6,545.5 C468.3,544.2 468.0,541.8 467.7,541.0 Z" fill="#ecc393"/>
<foreignObject x="455" y="488" width="164" height="84" clip-path="url(#cloudclip)"><div style="width:164px;height:84px;background:conic-gradient(from 0deg at 82px 43.5px, #d49b6b 0deg, #dfab7a 10deg, #ebbd8c 30deg, #f2ca99 65deg, #f7d6a7 84deg, #fde5ba 90deg, #f7d6a7 96deg, #f2ca99 112deg, #eec391 150deg, #e4b381 170deg, #d9a373 180deg, #e4b381 190deg, #eec391 210deg, #f2ca99 248deg, #f7d6a7 264deg, #fde5ba 270deg, #f7d6a7 276deg, #f2ca99 295deg, #ebbd8c 330deg, #dfab7a 350deg, #d49b6b 360deg);"></div></foreignObject>
<rect x="614.1" y="576.6" width="37.2" height="37.8" rx="5.6" fill="url(#wxg)"/>
<path d="M614.1,597 Q633,591 651.3,597 V608.8 Q651.3,614.4 645.7,614.4 H619.7 Q614.1,614.4 614.1,608.8 Z" fill="#7cb842" opacity="0.35"/>
<path d="M621.2,602.4 L623.4,597.6 L626.6,599.6 Z" fill="#dfe6dc"/>
<ellipse cx="627.5" cy="591.4" rx="10.7" ry="9.1" fill="url(#bubg)"/>
<path d="M645.6,606.6 L643,602.6 L640.4,604.6 Z" fill="#e9ede6"/>
<ellipse cx="639" cy="598.5" rx="9.4" ry="7.9" fill="#4c9a3a"/>
<ellipse cx="639" cy="598.6" rx="8.7" ry="7.3" fill="url(#bubg)"/>
<circle cx="623.8" cy="589.8" r="1.35" fill="#1d211c"/>
<circle cx="631.6" cy="589.8" r="1.35" fill="#1d211c"/>
<circle cx="635.7" cy="597.4" r="1.15" fill="#1d211c"/>
<circle cx="642.3" cy="597.4" r="1.15" fill="#1d211c"/>
<rect x="654.6" y="540.2" width="41.6" height="81.2" rx="2.4" fill="#3b3735"/>
<rect x="655.2" y="540.8" width="40.4" height="80" rx="2" fill="none" stroke="#5a5654" stroke-width="0.5"/>
<rect x="671" y="542.8" width="8.6" height="1.2" rx="0.6" fill="#1c1a19"/>
<rect x="656.8" y="547.4" width="37.8" height="63.4" fill="#fbfbfa"/>
<rect x="656.8" y="547.4" width="37.8" height="3.2" fill="#2a2827"/>
<rect x="657.6" y="548.4" width="2.6" height="1.2" fill="#a9b24a"/><rect x="680" y="548.4" width="13" height="1.2" fill="#77746f"/>
<rect x="656.8" y="550.6" width="37.8" height="4.6" fill="#353332"/>
<rect x="658.6" y="551.8" width="2" height="2" fill="#f2f2f2"/><rect x="662.6" y="552.2" width="15" height="1.3" fill="#b9b7b4"/>
<rect x="656.8" y="555.6" width="37.8" height="5" fill="#e9e1d8"/>
<rect x="658.4" y="557.4" width="3.4" height="1.2" fill="#8a8782"/><rect x="676.4" y="557.4" width="6.6" height="1.2" fill="#8a8782"/><rect x="685" y="557.4" width="2.6" height="1.2" fill="#d98a7c"/>
<rect x="689.2" y="556" width="3.8" height="4.2" rx="0.7" fill="#e0402c"/>
<rect x="658" y="561.6" width="3.4" height="4" rx="0.5" fill="#e0503c"/>
<rect x="663.4" y="563.0" width="4.6" height="1.1" fill="#7d7b78"/>
<line x1="656.8" y1="566.6" x2="694.6" y2="566.6" stroke="#d8dde2" stroke-width="0.5"/>
<rect x="658" y="567.2" width="3.4" height="4" rx="0.5" fill="#4fae7a"/>
<rect x="663.4" y="568.6" width="4.6" height="1.1" fill="#7d7b78"/>
<line x1="656.8" y1="572.2" x2="694.6" y2="572.2" stroke="#d8dde2" stroke-width="0.5"/>
<rect x="658" y="572.8" width="3.4" height="4" rx="0.5" fill="#f0a04a"/>
<rect x="663.4" y="574.1999999999999" width="4.6" height="1.1" fill="#7d7b78"/>
<line x1="656.8" y1="577.8" x2="694.6" y2="577.8" stroke="#d8dde2" stroke-width="0.5"/>
<rect x="656.8" y="577.4" width="37.8" height="4.8" fill="#d7d5d2"/>
<rect x="658.4" y="579.2" width="3.4" height="1.2" fill="#8a8782"/>
<rect x="658" y="583.6" width="3.4" height="4" rx="0.5" fill="#3f9ad6"/>
<rect x="663.4" y="585.0" width="7" height="1.1" fill="#7d7b78"/>
<line x1="656.8" y1="588.6" x2="694.6" y2="588.6" stroke="#d8dde2" stroke-width="0.5"/>
<rect x="658" y="589.2" width="3.4" height="4" rx="0.5" fill="#3f9ad6"/>
<rect x="663.4" y="590.6" width="6.6" height="1.1" fill="#7d7b78"/>
<line x1="656.8" y1="594.2" x2="694.6" y2="594.2" stroke="#d8dde2" stroke-width="0.5"/>
<rect x="658" y="594.6" width="3.4" height="4" rx="0.5" fill="#3f9ad6"/>
<rect x="663.4" y="596.0" width="6" height="1.1" fill="#7d7b78"/>
<line x1="656.8" y1="599.6" x2="694.6" y2="599.6" stroke="#d8dde2" stroke-width="0.5"/>
<rect x="656.8" y="610.8" width="37.8" height="5.4" fill="#1f1d1c"/>
<rect x="663.1999999999999" y="612.8" width="2.4" height="1.4" fill="none" stroke="#8a8884" stroke-width="0.5"/>
<rect x="674.4" y="612.8" width="2.4" height="1.4" fill="none" stroke="#8a8884" stroke-width="0.5"/>
<rect x="685.5999999999999" y="612.8" width="2.4" height="1.4" fill="none" stroke="#8a8884" stroke-width="0.5"/>
<text x="233.8" y="462" font-size="9.4" fill="#cb3e33" font-weight="500" letter-spacing="0.25" text-anchor="start" >总线型周界</text>
<text x="523" y="167" font-size="9.4" fill="#cb3e33" font-weight="500" letter-spacing="0.0" text-anchor="start" >出入口</text>
<text x="512.0" y="327" font-size="9.4" fill="#cb3e33" font-weight="500" letter-spacing="0.22" text-anchor="start" >网络型周界</text>
<text x="512.0" y="462" font-size="9.4" fill="#cb3e33" font-weight="500" letter-spacing="0.22" text-anchor="start" >网络型周界</text>
<text x="846.5" y="167" font-size="9.4" fill="#cb3e33" font-weight="500" letter-spacing="1.1" text-anchor="start" >住户/商铺</text>
<text x="846.5" y="328" font-size="9.4" fill="#cb3e33" font-weight="500" letter-spacing="1.1" text-anchor="start" >住户/商铺</text>
<text x="846.5" y="463" font-size="9.4" fill="#cb3e33" font-weight="500" letter-spacing="1.1" text-anchor="start" >住户/商铺</text>
<text x="377" y="563" font-size="9.4" fill="#cb3e33" font-weight="500" letter-spacing="1.2" text-anchor="start" >保安室</text>
<text x="82.0" y="197" font-size="6.8" fill="#2a2a2a" font-weight="700" letter-spacing="0.5" text-anchor="start" >总线张力主机</text>
<text x="83.5" y="324" font-size="6.8" fill="#2a2a2a" font-weight="700" letter-spacing="0.5" text-anchor="start" >总线脉冲主机</text>
<text x="104.7" y="407" font-size="6.8" fill="#74443a" font-weight="700" letter-spacing="0.5" text-anchor="start" >电子地图模型</text>
<text x="219.8" y="405" font-size="6.8" fill="#2a2a2a" font-weight="700" letter-spacing="0.5" text-anchor="start" >总线报警主机</text>
<text x="361.2" y="169" font-size="6.8" fill="#2a2a2a" font-weight="700" letter-spacing="0.5" text-anchor="start" >网络双地址模块</text>
<text x="360.2" y="331" font-size="6.8" fill="#2a2a2a" font-weight="700" letter-spacing="0.5" text-anchor="start" >网络张力主机</text>
<text x="360.2" y="466" font-size="6.8" fill="#2a2a2a" font-weight="700" letter-spacing="0.5" text-anchor="start" >网络脉冲主机</text>
<text x="690.6" y="164" font-size="6.8" fill="#2a2a2a" font-weight="700" letter-spacing="0.5" text-anchor="start" >网络报警键盘</text>
<text x="690.6" y="323" font-size="6.8" fill="#2a2a2a" font-weight="700" letter-spacing="0.5" text-anchor="start" >网络报警键盘</text>
<text x="690.6" y="458" font-size="6.8" fill="#2a2a2a" font-weight="700" letter-spacing="0.5" text-anchor="start" >网络报警键盘</text>
<text x="779.0" y="74" font-size="6.8" fill="#66463e" font-weight="500" letter-spacing="0.45" text-anchor="start" >红外</text>
<text x="805.0" y="74" font-size="6.8" fill="#66463e" font-weight="500" letter-spacing="0.45" text-anchor="start" >气感</text>
<text x="841.8" y="74" font-size="6.8" fill="#66463e" font-weight="500" letter-spacing="0.45" text-anchor="start" >紧急按钮</text>
<text x="779.0" y="233" font-size="6.8" fill="#66463e" font-weight="500" letter-spacing="0.45" text-anchor="start" >红外</text>
<text x="805.0" y="233" font-size="6.8" fill="#66463e" font-weight="500" letter-spacing="0.45" text-anchor="start" >气感</text>
<text x="841.8" y="233" font-size="6.8" fill="#66463e" font-weight="500" letter-spacing="0.45" text-anchor="start" >紧急按钮</text>
<text x="779.0" y="368" font-size="6.8" fill="#66463e" font-weight="500" letter-spacing="0.45" text-anchor="start" >红外</text>
<text x="805.0" y="368" font-size="6.8" fill="#66463e" font-weight="500" letter-spacing="0.45" text-anchor="start" >气感</text>
<text x="841.8" y="368" font-size="6.8" fill="#66463e" font-weight="500" letter-spacing="0.45" text-anchor="start" >紧急按钮</text>
<text x="459.3" y="79" font-size="6.8" fill="#66463e" font-weight="500" letter-spacing="0.45" text-anchor="start" >红外对射</text>
<text x="505.9" y="79" font-size="6.8" fill="#66463e" font-weight="500" letter-spacing="0.45" text-anchor="start" >红外对射</text>
<text x="129" y="560" font-size="8.2" fill="#161616" font-weight="500" letter-spacing="0.8" text-anchor="start" >中心软件</text>
<text x="645.3" y="633" font-size="7.0" fill="#2a2a2a" font-weight="500" letter-spacing="0.42" text-anchor="start" >手机接警及控制</text>
<text x="537" y="533" font-size="10.6" fill="#141414" font-weight="900" letter-spacing="0.5" text-anchor="middle" >IP网络</text>
<circle cx="476.4" cy="185.5" r="1.75" fill="#d3161c"/>
<circle cx="476.4" cy="195.5" r="1.75" fill="#d3161c"/>
<circle cx="476.4" cy="205.5" r="1.75" fill="#d3161c"/>
<circle cx="806.2" cy="185.5" r="1.75" fill="#d3161c"/>
<circle cx="806.2" cy="195.5" r="1.75" fill="#d3161c"/>
<circle cx="806.2" cy="205.5" r="1.75" fill="#d3161c"/>
</svg>
</body>
</html>
